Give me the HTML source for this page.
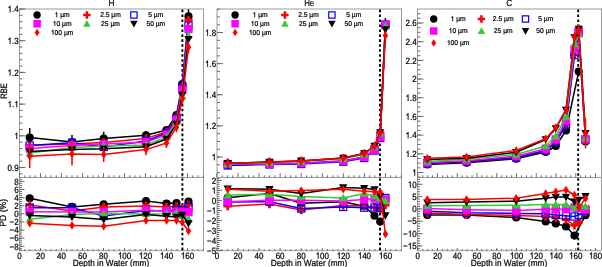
<!DOCTYPE html>
<html><head><meta charset="utf-8"><style>
html,body{margin:0;padding:0;background:#fff;width:602px;height:267px;overflow:hidden}
svg{display:block;will-change:transform} text{text-rendering:geometricPrecision;stroke:#000;stroke-width:0.22px;font-kerning:none}
</style></head><body>
<svg width="602" height="267" viewBox="0 0 602 267" font-family="Liberation Sans, sans-serif">
<rect width="602" height="267" fill="#fff"/>
<line x1="19.50" y1="9.00" x2="203.50" y2="9.00" stroke="#9a9a9a" stroke-width="1.0"/>
<line x1="19.50" y1="8.50" x2="19.50" y2="251.00" stroke="#9a9a9a" stroke-width="1.0"/>
<line x1="203.50" y1="8.50" x2="203.50" y2="251.00" stroke="#9a9a9a" stroke-width="1.0"/>
<line x1="19.00" y1="250.50" x2="204.00" y2="250.50" stroke="#b4b4b4" stroke-width="1.5"/>
<line x1="19.50" y1="177.50" x2="203.50" y2="177.50" stroke="#9a9a9a" stroke-width="1.0"/>
<line x1="19.50" y1="167.50" x2="25.50" y2="167.50" stroke="#6a6a6a" stroke-width="1.0"/>
<text transform="translate(18.60 170.70) scale(0.89 1)" font-size="9.0" text-anchor="end" >0.9</text>
<line x1="19.50" y1="135.80" x2="25.50" y2="135.80" stroke="#6a6a6a" stroke-width="1.0"/>
<g transform="translate(18.60 139.00) scale(0.89 1)"><text x="0" y="0" font-size="9.0" text-anchor="end" > </text><path transform="translate(-5.005 0) scale(9.0)" d="M0.372 -0.703L0.372 0L0.284 0L0.284 -0.492L0.110 -0.492L0.110 -0.558C0.227 -0.572 0.264 -0.593 0.292 -0.703Z" fill="#000" stroke="#000" stroke-width="0.0244"/></g>
<line x1="19.50" y1="104.10" x2="25.50" y2="104.10" stroke="#6a6a6a" stroke-width="1.0"/>
<g transform="translate(18.60 107.30) scale(0.89 1)"><text x="0" y="0" font-size="9.0" text-anchor="end" > . </text><path transform="translate(-12.511 0) scale(9.0)" d="M0.372 -0.703L0.372 0L0.284 0L0.284 -0.492L0.110 -0.492L0.110 -0.558C0.227 -0.572 0.264 -0.593 0.292 -0.703Z" fill="#000" stroke="#000" stroke-width="0.0244"/><path transform="translate(-5.005 0) scale(9.0)" d="M0.372 -0.703L0.372 0L0.284 0L0.284 -0.492L0.110 -0.492L0.110 -0.558C0.227 -0.572 0.264 -0.593 0.292 -0.703Z" fill="#000" stroke="#000" stroke-width="0.0244"/></g>
<line x1="19.50" y1="72.40" x2="25.50" y2="72.40" stroke="#6a6a6a" stroke-width="1.0"/>
<g transform="translate(18.60 75.60) scale(0.89 1)"><text x="0" y="0" font-size="9.0" text-anchor="end" > .2</text><path transform="translate(-12.511 0) scale(9.0)" d="M0.372 -0.703L0.372 0L0.284 0L0.284 -0.492L0.110 -0.492L0.110 -0.558C0.227 -0.572 0.264 -0.593 0.292 -0.703Z" fill="#000" stroke="#000" stroke-width="0.0244"/></g>
<line x1="19.50" y1="40.70" x2="25.50" y2="40.70" stroke="#6a6a6a" stroke-width="1.0"/>
<g transform="translate(18.60 43.90) scale(0.89 1)"><text x="0" y="0" font-size="9.0" text-anchor="end" > .3</text><path transform="translate(-12.511 0) scale(9.0)" d="M0.372 -0.703L0.372 0L0.284 0L0.284 -0.492L0.110 -0.492L0.110 -0.558C0.227 -0.572 0.264 -0.593 0.292 -0.703Z" fill="#000" stroke="#000" stroke-width="0.0244"/></g>
<line x1="19.50" y1="9.00" x2="25.50" y2="9.00" stroke="#6a6a6a" stroke-width="1.0"/>
<g transform="translate(18.60 12.20) scale(0.89 1)"><text x="0" y="0" font-size="9.0" text-anchor="end" > .4</text><path transform="translate(-12.511 0) scale(9.0)" d="M0.372 -0.703L0.372 0L0.284 0L0.284 -0.492L0.110 -0.492L0.110 -0.558C0.227 -0.572 0.264 -0.593 0.292 -0.703Z" fill="#000" stroke="#000" stroke-width="0.0244"/></g>
<line x1="19.50" y1="173.84" x2="22.50" y2="173.84" stroke="#6a6a6a" stroke-width="1.0"/>
<line x1="19.50" y1="167.50" x2="22.50" y2="167.50" stroke="#6a6a6a" stroke-width="1.0"/>
<line x1="19.50" y1="161.16" x2="22.50" y2="161.16" stroke="#6a6a6a" stroke-width="1.0"/>
<line x1="19.50" y1="154.82" x2="22.50" y2="154.82" stroke="#6a6a6a" stroke-width="1.0"/>
<line x1="19.50" y1="148.48" x2="22.50" y2="148.48" stroke="#6a6a6a" stroke-width="1.0"/>
<line x1="19.50" y1="142.14" x2="22.50" y2="142.14" stroke="#6a6a6a" stroke-width="1.0"/>
<line x1="19.50" y1="135.80" x2="22.50" y2="135.80" stroke="#6a6a6a" stroke-width="1.0"/>
<line x1="19.50" y1="129.46" x2="22.50" y2="129.46" stroke="#6a6a6a" stroke-width="1.0"/>
<line x1="19.50" y1="123.12" x2="22.50" y2="123.12" stroke="#6a6a6a" stroke-width="1.0"/>
<line x1="19.50" y1="116.78" x2="22.50" y2="116.78" stroke="#6a6a6a" stroke-width="1.0"/>
<line x1="19.50" y1="110.44" x2="22.50" y2="110.44" stroke="#6a6a6a" stroke-width="1.0"/>
<line x1="19.50" y1="104.10" x2="22.50" y2="104.10" stroke="#6a6a6a" stroke-width="1.0"/>
<line x1="19.50" y1="97.76" x2="22.50" y2="97.76" stroke="#6a6a6a" stroke-width="1.0"/>
<line x1="19.50" y1="91.42" x2="22.50" y2="91.42" stroke="#6a6a6a" stroke-width="1.0"/>
<line x1="19.50" y1="85.08" x2="22.50" y2="85.08" stroke="#6a6a6a" stroke-width="1.0"/>
<line x1="19.50" y1="78.74" x2="22.50" y2="78.74" stroke="#6a6a6a" stroke-width="1.0"/>
<line x1="19.50" y1="72.40" x2="22.50" y2="72.40" stroke="#6a6a6a" stroke-width="1.0"/>
<line x1="19.50" y1="66.06" x2="22.50" y2="66.06" stroke="#6a6a6a" stroke-width="1.0"/>
<line x1="19.50" y1="59.72" x2="22.50" y2="59.72" stroke="#6a6a6a" stroke-width="1.0"/>
<line x1="19.50" y1="53.38" x2="22.50" y2="53.38" stroke="#6a6a6a" stroke-width="1.0"/>
<line x1="19.50" y1="47.04" x2="22.50" y2="47.04" stroke="#6a6a6a" stroke-width="1.0"/>
<line x1="19.50" y1="40.70" x2="22.50" y2="40.70" stroke="#6a6a6a" stroke-width="1.0"/>
<line x1="19.50" y1="34.36" x2="22.50" y2="34.36" stroke="#6a6a6a" stroke-width="1.0"/>
<line x1="19.50" y1="28.02" x2="22.50" y2="28.02" stroke="#6a6a6a" stroke-width="1.0"/>
<line x1="19.50" y1="21.68" x2="22.50" y2="21.68" stroke="#6a6a6a" stroke-width="1.0"/>
<line x1="19.50" y1="15.34" x2="22.50" y2="15.34" stroke="#6a6a6a" stroke-width="1.0"/>
<line x1="19.50" y1="9.00" x2="22.50" y2="9.00" stroke="#6a6a6a" stroke-width="1.0"/>
<line x1="19.50" y1="246.30" x2="24.50" y2="246.30" stroke="#6a6a6a" stroke-width="1.0"/>
<text transform="translate(18.60 249.50) scale(0.89 1)" font-size="9.0" text-anchor="end" >−8</text>
<line x1="19.50" y1="238.19" x2="24.50" y2="238.19" stroke="#6a6a6a" stroke-width="1.0"/>
<text transform="translate(18.60 241.39) scale(0.89 1)" font-size="9.0" text-anchor="end" >−6</text>
<line x1="19.50" y1="230.07" x2="24.50" y2="230.07" stroke="#6a6a6a" stroke-width="1.0"/>
<text transform="translate(18.60 233.27) scale(0.89 1)" font-size="9.0" text-anchor="end" >−4</text>
<line x1="19.50" y1="221.96" x2="24.50" y2="221.96" stroke="#6a6a6a" stroke-width="1.0"/>
<text transform="translate(18.60 225.16) scale(0.89 1)" font-size="9.0" text-anchor="end" >−2</text>
<line x1="19.50" y1="213.85" x2="24.50" y2="213.85" stroke="#6a6a6a" stroke-width="1.0"/>
<text transform="translate(18.60 217.05) scale(0.89 1)" font-size="9.0" text-anchor="end" >0</text>
<line x1="19.50" y1="205.74" x2="24.50" y2="205.74" stroke="#6a6a6a" stroke-width="1.0"/>
<text transform="translate(18.60 208.94) scale(0.89 1)" font-size="9.0" text-anchor="end" >2</text>
<line x1="19.50" y1="197.63" x2="24.50" y2="197.63" stroke="#6a6a6a" stroke-width="1.0"/>
<text transform="translate(18.60 200.83) scale(0.89 1)" font-size="9.0" text-anchor="end" >4</text>
<line x1="19.50" y1="189.51" x2="24.50" y2="189.51" stroke="#6a6a6a" stroke-width="1.0"/>
<text transform="translate(18.60 192.71) scale(0.89 1)" font-size="9.0" text-anchor="end" >6</text>
<line x1="19.50" y1="181.40" x2="24.50" y2="181.40" stroke="#6a6a6a" stroke-width="1.0"/>
<text transform="translate(18.60 184.60) scale(0.89 1)" font-size="9.0" text-anchor="end" >8</text>
<line x1="19.50" y1="250.35" x2="22.00" y2="250.35" stroke="#6a6a6a" stroke-width="1.0"/>
<line x1="19.50" y1="248.33" x2="22.00" y2="248.33" stroke="#6a6a6a" stroke-width="1.0"/>
<line x1="19.50" y1="246.30" x2="22.00" y2="246.30" stroke="#6a6a6a" stroke-width="1.0"/>
<line x1="19.50" y1="244.27" x2="22.00" y2="244.27" stroke="#6a6a6a" stroke-width="1.0"/>
<line x1="19.50" y1="242.24" x2="22.00" y2="242.24" stroke="#6a6a6a" stroke-width="1.0"/>
<line x1="19.50" y1="240.21" x2="22.00" y2="240.21" stroke="#6a6a6a" stroke-width="1.0"/>
<line x1="19.50" y1="238.19" x2="22.00" y2="238.19" stroke="#6a6a6a" stroke-width="1.0"/>
<line x1="19.50" y1="236.16" x2="22.00" y2="236.16" stroke="#6a6a6a" stroke-width="1.0"/>
<line x1="19.50" y1="234.13" x2="22.00" y2="234.13" stroke="#6a6a6a" stroke-width="1.0"/>
<line x1="19.50" y1="232.10" x2="22.00" y2="232.10" stroke="#6a6a6a" stroke-width="1.0"/>
<line x1="19.50" y1="230.07" x2="22.00" y2="230.07" stroke="#6a6a6a" stroke-width="1.0"/>
<line x1="19.50" y1="228.05" x2="22.00" y2="228.05" stroke="#6a6a6a" stroke-width="1.0"/>
<line x1="19.50" y1="226.02" x2="22.00" y2="226.02" stroke="#6a6a6a" stroke-width="1.0"/>
<line x1="19.50" y1="223.99" x2="22.00" y2="223.99" stroke="#6a6a6a" stroke-width="1.0"/>
<line x1="19.50" y1="221.96" x2="22.00" y2="221.96" stroke="#6a6a6a" stroke-width="1.0"/>
<line x1="19.50" y1="219.93" x2="22.00" y2="219.93" stroke="#6a6a6a" stroke-width="1.0"/>
<line x1="19.50" y1="217.91" x2="22.00" y2="217.91" stroke="#6a6a6a" stroke-width="1.0"/>
<line x1="19.50" y1="215.88" x2="22.00" y2="215.88" stroke="#6a6a6a" stroke-width="1.0"/>
<line x1="19.50" y1="213.85" x2="22.00" y2="213.85" stroke="#6a6a6a" stroke-width="1.0"/>
<line x1="19.50" y1="211.82" x2="22.00" y2="211.82" stroke="#6a6a6a" stroke-width="1.0"/>
<line x1="19.50" y1="209.79" x2="22.00" y2="209.79" stroke="#6a6a6a" stroke-width="1.0"/>
<line x1="19.50" y1="207.77" x2="22.00" y2="207.77" stroke="#6a6a6a" stroke-width="1.0"/>
<line x1="19.50" y1="205.74" x2="22.00" y2="205.74" stroke="#6a6a6a" stroke-width="1.0"/>
<line x1="19.50" y1="203.71" x2="22.00" y2="203.71" stroke="#6a6a6a" stroke-width="1.0"/>
<line x1="19.50" y1="201.68" x2="22.00" y2="201.68" stroke="#6a6a6a" stroke-width="1.0"/>
<line x1="19.50" y1="199.65" x2="22.00" y2="199.65" stroke="#6a6a6a" stroke-width="1.0"/>
<line x1="19.50" y1="197.63" x2="22.00" y2="197.63" stroke="#6a6a6a" stroke-width="1.0"/>
<line x1="19.50" y1="195.60" x2="22.00" y2="195.60" stroke="#6a6a6a" stroke-width="1.0"/>
<line x1="19.50" y1="193.57" x2="22.00" y2="193.57" stroke="#6a6a6a" stroke-width="1.0"/>
<line x1="19.50" y1="191.54" x2="22.00" y2="191.54" stroke="#6a6a6a" stroke-width="1.0"/>
<line x1="19.50" y1="189.51" x2="22.00" y2="189.51" stroke="#6a6a6a" stroke-width="1.0"/>
<line x1="19.50" y1="187.49" x2="22.00" y2="187.49" stroke="#6a6a6a" stroke-width="1.0"/>
<line x1="19.50" y1="185.46" x2="22.00" y2="185.46" stroke="#6a6a6a" stroke-width="1.0"/>
<line x1="19.50" y1="183.43" x2="22.00" y2="183.43" stroke="#6a6a6a" stroke-width="1.0"/>
<line x1="19.50" y1="181.40" x2="22.00" y2="181.40" stroke="#6a6a6a" stroke-width="1.0"/>
<line x1="19.50" y1="179.37" x2="22.00" y2="179.37" stroke="#6a6a6a" stroke-width="1.0"/>
<line x1="19.50" y1="177.50" x2="19.50" y2="173.20" stroke="#6a6a6a" stroke-width="1.0"/>
<line x1="19.50" y1="250.70" x2="19.50" y2="248.20" stroke="#555" stroke-width="1.0"/>
<text transform="translate(19.50 258.70) scale(0.89 1)" font-size="9.0" text-anchor="middle" >0</text>
<line x1="24.75" y1="177.50" x2="24.75" y2="175.30" stroke="#6a6a6a" stroke-width="1.0"/>
<line x1="24.75" y1="250.70" x2="24.75" y2="249.30" stroke="#555" stroke-width="1.0"/>
<line x1="30.00" y1="177.50" x2="30.00" y2="175.30" stroke="#6a6a6a" stroke-width="1.0"/>
<line x1="30.00" y1="250.70" x2="30.00" y2="249.30" stroke="#555" stroke-width="1.0"/>
<line x1="35.25" y1="177.50" x2="35.25" y2="175.30" stroke="#6a6a6a" stroke-width="1.0"/>
<line x1="35.25" y1="250.70" x2="35.25" y2="249.30" stroke="#555" stroke-width="1.0"/>
<line x1="40.50" y1="177.50" x2="40.50" y2="173.20" stroke="#6a6a6a" stroke-width="1.0"/>
<line x1="40.50" y1="250.70" x2="40.50" y2="248.20" stroke="#555" stroke-width="1.0"/>
<text transform="translate(40.50 258.70) scale(0.89 1)" font-size="9.0" text-anchor="middle" >20</text>
<line x1="45.75" y1="177.50" x2="45.75" y2="175.30" stroke="#6a6a6a" stroke-width="1.0"/>
<line x1="45.75" y1="250.70" x2="45.75" y2="249.30" stroke="#555" stroke-width="1.0"/>
<line x1="51.00" y1="177.50" x2="51.00" y2="175.30" stroke="#6a6a6a" stroke-width="1.0"/>
<line x1="51.00" y1="250.70" x2="51.00" y2="249.30" stroke="#555" stroke-width="1.0"/>
<line x1="56.25" y1="177.50" x2="56.25" y2="175.30" stroke="#6a6a6a" stroke-width="1.0"/>
<line x1="56.25" y1="250.70" x2="56.25" y2="249.30" stroke="#555" stroke-width="1.0"/>
<line x1="61.50" y1="177.50" x2="61.50" y2="173.20" stroke="#6a6a6a" stroke-width="1.0"/>
<line x1="61.50" y1="250.70" x2="61.50" y2="248.20" stroke="#555" stroke-width="1.0"/>
<text transform="translate(61.50 258.70) scale(0.89 1)" font-size="9.0" text-anchor="middle" >40</text>
<line x1="66.75" y1="177.50" x2="66.75" y2="175.30" stroke="#6a6a6a" stroke-width="1.0"/>
<line x1="66.75" y1="250.70" x2="66.75" y2="249.30" stroke="#555" stroke-width="1.0"/>
<line x1="72.00" y1="177.50" x2="72.00" y2="175.30" stroke="#6a6a6a" stroke-width="1.0"/>
<line x1="72.00" y1="250.70" x2="72.00" y2="249.30" stroke="#555" stroke-width="1.0"/>
<line x1="77.25" y1="177.50" x2="77.25" y2="175.30" stroke="#6a6a6a" stroke-width="1.0"/>
<line x1="77.25" y1="250.70" x2="77.25" y2="249.30" stroke="#555" stroke-width="1.0"/>
<line x1="82.50" y1="177.50" x2="82.50" y2="173.20" stroke="#6a6a6a" stroke-width="1.0"/>
<line x1="82.50" y1="250.70" x2="82.50" y2="248.20" stroke="#555" stroke-width="1.0"/>
<text transform="translate(82.50 258.70) scale(0.89 1)" font-size="9.0" text-anchor="middle" >60</text>
<line x1="87.75" y1="177.50" x2="87.75" y2="175.30" stroke="#6a6a6a" stroke-width="1.0"/>
<line x1="87.75" y1="250.70" x2="87.75" y2="249.30" stroke="#555" stroke-width="1.0"/>
<line x1="93.00" y1="177.50" x2="93.00" y2="175.30" stroke="#6a6a6a" stroke-width="1.0"/>
<line x1="93.00" y1="250.70" x2="93.00" y2="249.30" stroke="#555" stroke-width="1.0"/>
<line x1="98.25" y1="177.50" x2="98.25" y2="175.30" stroke="#6a6a6a" stroke-width="1.0"/>
<line x1="98.25" y1="250.70" x2="98.25" y2="249.30" stroke="#555" stroke-width="1.0"/>
<line x1="103.50" y1="177.50" x2="103.50" y2="173.20" stroke="#6a6a6a" stroke-width="1.0"/>
<line x1="103.50" y1="250.70" x2="103.50" y2="248.20" stroke="#555" stroke-width="1.0"/>
<text transform="translate(103.50 258.70) scale(0.89 1)" font-size="9.0" text-anchor="middle" >80</text>
<line x1="108.75" y1="177.50" x2="108.75" y2="175.30" stroke="#6a6a6a" stroke-width="1.0"/>
<line x1="108.75" y1="250.70" x2="108.75" y2="249.30" stroke="#555" stroke-width="1.0"/>
<line x1="114.00" y1="177.50" x2="114.00" y2="175.30" stroke="#6a6a6a" stroke-width="1.0"/>
<line x1="114.00" y1="250.70" x2="114.00" y2="249.30" stroke="#555" stroke-width="1.0"/>
<line x1="119.25" y1="177.50" x2="119.25" y2="175.30" stroke="#6a6a6a" stroke-width="1.0"/>
<line x1="119.25" y1="250.70" x2="119.25" y2="249.30" stroke="#555" stroke-width="1.0"/>
<line x1="124.50" y1="177.50" x2="124.50" y2="173.20" stroke="#6a6a6a" stroke-width="1.0"/>
<line x1="124.50" y1="250.70" x2="124.50" y2="248.20" stroke="#555" stroke-width="1.0"/>
<g transform="translate(124.50 258.70) scale(0.89 1)"><text x="0" y="0" font-size="9.0" text-anchor="middle" > 00</text><path transform="translate(-7.508 0) scale(9.0)" d="M0.372 -0.703L0.372 0L0.284 0L0.284 -0.492L0.110 -0.492L0.110 -0.558C0.227 -0.572 0.264 -0.593 0.292 -0.703Z" fill="#000" stroke="#000" stroke-width="0.0244"/></g>
<line x1="129.75" y1="177.50" x2="129.75" y2="175.30" stroke="#6a6a6a" stroke-width="1.0"/>
<line x1="129.75" y1="250.70" x2="129.75" y2="249.30" stroke="#555" stroke-width="1.0"/>
<line x1="135.00" y1="177.50" x2="135.00" y2="175.30" stroke="#6a6a6a" stroke-width="1.0"/>
<line x1="135.00" y1="250.70" x2="135.00" y2="249.30" stroke="#555" stroke-width="1.0"/>
<line x1="140.25" y1="177.50" x2="140.25" y2="175.30" stroke="#6a6a6a" stroke-width="1.0"/>
<line x1="140.25" y1="250.70" x2="140.25" y2="249.30" stroke="#555" stroke-width="1.0"/>
<line x1="145.50" y1="177.50" x2="145.50" y2="173.20" stroke="#6a6a6a" stroke-width="1.0"/>
<line x1="145.50" y1="250.70" x2="145.50" y2="248.20" stroke="#555" stroke-width="1.0"/>
<g transform="translate(145.50 258.70) scale(0.89 1)"><text x="0" y="0" font-size="9.0" text-anchor="middle" > 20</text><path transform="translate(-7.508 0) scale(9.0)" d="M0.372 -0.703L0.372 0L0.284 0L0.284 -0.492L0.110 -0.492L0.110 -0.558C0.227 -0.572 0.264 -0.593 0.292 -0.703Z" fill="#000" stroke="#000" stroke-width="0.0244"/></g>
<line x1="150.75" y1="177.50" x2="150.75" y2="175.30" stroke="#6a6a6a" stroke-width="1.0"/>
<line x1="150.75" y1="250.70" x2="150.75" y2="249.30" stroke="#555" stroke-width="1.0"/>
<line x1="156.00" y1="177.50" x2="156.00" y2="175.30" stroke="#6a6a6a" stroke-width="1.0"/>
<line x1="156.00" y1="250.70" x2="156.00" y2="249.30" stroke="#555" stroke-width="1.0"/>
<line x1="161.25" y1="177.50" x2="161.25" y2="175.30" stroke="#6a6a6a" stroke-width="1.0"/>
<line x1="161.25" y1="250.70" x2="161.25" y2="249.30" stroke="#555" stroke-width="1.0"/>
<line x1="166.50" y1="177.50" x2="166.50" y2="173.20" stroke="#6a6a6a" stroke-width="1.0"/>
<line x1="166.50" y1="250.70" x2="166.50" y2="248.20" stroke="#555" stroke-width="1.0"/>
<g transform="translate(166.50 258.70) scale(0.89 1)"><text x="0" y="0" font-size="9.0" text-anchor="middle" > 40</text><path transform="translate(-7.508 0) scale(9.0)" d="M0.372 -0.703L0.372 0L0.284 0L0.284 -0.492L0.110 -0.492L0.110 -0.558C0.227 -0.572 0.264 -0.593 0.292 -0.703Z" fill="#000" stroke="#000" stroke-width="0.0244"/></g>
<line x1="171.75" y1="177.50" x2="171.75" y2="175.30" stroke="#6a6a6a" stroke-width="1.0"/>
<line x1="171.75" y1="250.70" x2="171.75" y2="249.30" stroke="#555" stroke-width="1.0"/>
<line x1="177.00" y1="177.50" x2="177.00" y2="175.30" stroke="#6a6a6a" stroke-width="1.0"/>
<line x1="177.00" y1="250.70" x2="177.00" y2="249.30" stroke="#555" stroke-width="1.0"/>
<line x1="182.25" y1="177.50" x2="182.25" y2="175.30" stroke="#6a6a6a" stroke-width="1.0"/>
<line x1="182.25" y1="250.70" x2="182.25" y2="249.30" stroke="#555" stroke-width="1.0"/>
<line x1="187.50" y1="177.50" x2="187.50" y2="173.20" stroke="#6a6a6a" stroke-width="1.0"/>
<line x1="187.50" y1="250.70" x2="187.50" y2="248.20" stroke="#555" stroke-width="1.0"/>
<g transform="translate(187.50 258.70) scale(0.89 1)"><text x="0" y="0" font-size="9.0" text-anchor="middle" > 60</text><path transform="translate(-7.508 0) scale(9.0)" d="M0.372 -0.703L0.372 0L0.284 0L0.284 -0.492L0.110 -0.492L0.110 -0.558C0.227 -0.572 0.264 -0.593 0.292 -0.703Z" fill="#000" stroke="#000" stroke-width="0.0244"/></g>
<line x1="192.75" y1="177.50" x2="192.75" y2="175.30" stroke="#6a6a6a" stroke-width="1.0"/>
<line x1="192.75" y1="250.70" x2="192.75" y2="249.30" stroke="#555" stroke-width="1.0"/>
<line x1="198.00" y1="177.50" x2="198.00" y2="175.30" stroke="#6a6a6a" stroke-width="1.0"/>
<line x1="198.00" y1="250.70" x2="198.00" y2="249.30" stroke="#555" stroke-width="1.0"/>
<line x1="203.25" y1="177.50" x2="203.25" y2="175.30" stroke="#6a6a6a" stroke-width="1.0"/>
<line x1="203.25" y1="250.70" x2="203.25" y2="249.30" stroke="#555" stroke-width="1.0"/>
<line x1="217.00" y1="9.00" x2="401.50" y2="9.00" stroke="#9a9a9a" stroke-width="1.0"/>
<line x1="217.00" y1="8.50" x2="217.00" y2="251.00" stroke="#9a9a9a" stroke-width="1.0"/>
<line x1="401.50" y1="8.50" x2="401.50" y2="251.00" stroke="#9a9a9a" stroke-width="1.0"/>
<line x1="216.50" y1="250.50" x2="402.00" y2="250.50" stroke="#b4b4b4" stroke-width="1.5"/>
<line x1="217.00" y1="177.50" x2="401.50" y2="177.50" stroke="#9a9a9a" stroke-width="1.0"/>
<line x1="217.00" y1="157.00" x2="223.00" y2="157.00" stroke="#6a6a6a" stroke-width="1.0"/>
<g transform="translate(216.10 160.20) scale(0.89 1)"><text x="0" y="0" font-size="9.0" text-anchor="end" > </text><path transform="translate(-5.005 0) scale(9.0)" d="M0.372 -0.703L0.372 0L0.284 0L0.284 -0.492L0.110 -0.492L0.110 -0.558C0.227 -0.572 0.264 -0.593 0.292 -0.703Z" fill="#000" stroke="#000" stroke-width="0.0244"/></g>
<line x1="217.00" y1="125.88" x2="223.00" y2="125.88" stroke="#6a6a6a" stroke-width="1.0"/>
<g transform="translate(216.10 129.08) scale(0.89 1)"><text x="0" y="0" font-size="9.0" text-anchor="end" > .2</text><path transform="translate(-12.511 0) scale(9.0)" d="M0.372 -0.703L0.372 0L0.284 0L0.284 -0.492L0.110 -0.492L0.110 -0.558C0.227 -0.572 0.264 -0.593 0.292 -0.703Z" fill="#000" stroke="#000" stroke-width="0.0244"/></g>
<line x1="217.00" y1="94.76" x2="223.00" y2="94.76" stroke="#6a6a6a" stroke-width="1.0"/>
<g transform="translate(216.10 97.96) scale(0.89 1)"><text x="0" y="0" font-size="9.0" text-anchor="end" > .4</text><path transform="translate(-12.511 0) scale(9.0)" d="M0.372 -0.703L0.372 0L0.284 0L0.284 -0.492L0.110 -0.492L0.110 -0.558C0.227 -0.572 0.264 -0.593 0.292 -0.703Z" fill="#000" stroke="#000" stroke-width="0.0244"/></g>
<line x1="217.00" y1="63.64" x2="223.00" y2="63.64" stroke="#6a6a6a" stroke-width="1.0"/>
<g transform="translate(216.10 66.84) scale(0.89 1)"><text x="0" y="0" font-size="9.0" text-anchor="end" > .6</text><path transform="translate(-12.511 0) scale(9.0)" d="M0.372 -0.703L0.372 0L0.284 0L0.284 -0.492L0.110 -0.492L0.110 -0.558C0.227 -0.572 0.264 -0.593 0.292 -0.703Z" fill="#000" stroke="#000" stroke-width="0.0244"/></g>
<line x1="217.00" y1="32.52" x2="223.00" y2="32.52" stroke="#6a6a6a" stroke-width="1.0"/>
<g transform="translate(216.10 35.72) scale(0.89 1)"><text x="0" y="0" font-size="9.0" text-anchor="end" > .8</text><path transform="translate(-12.511 0) scale(9.0)" d="M0.372 -0.703L0.372 0L0.284 0L0.284 -0.492L0.110 -0.492L0.110 -0.558C0.227 -0.572 0.264 -0.593 0.292 -0.703Z" fill="#000" stroke="#000" stroke-width="0.0244"/></g>
<line x1="217.00" y1="172.56" x2="220.00" y2="172.56" stroke="#6a6a6a" stroke-width="1.0"/>
<line x1="217.00" y1="164.78" x2="220.00" y2="164.78" stroke="#6a6a6a" stroke-width="1.0"/>
<line x1="217.00" y1="157.00" x2="220.00" y2="157.00" stroke="#6a6a6a" stroke-width="1.0"/>
<line x1="217.00" y1="149.22" x2="220.00" y2="149.22" stroke="#6a6a6a" stroke-width="1.0"/>
<line x1="217.00" y1="141.44" x2="220.00" y2="141.44" stroke="#6a6a6a" stroke-width="1.0"/>
<line x1="217.00" y1="133.66" x2="220.00" y2="133.66" stroke="#6a6a6a" stroke-width="1.0"/>
<line x1="217.00" y1="125.88" x2="220.00" y2="125.88" stroke="#6a6a6a" stroke-width="1.0"/>
<line x1="217.00" y1="118.10" x2="220.00" y2="118.10" stroke="#6a6a6a" stroke-width="1.0"/>
<line x1="217.00" y1="110.32" x2="220.00" y2="110.32" stroke="#6a6a6a" stroke-width="1.0"/>
<line x1="217.00" y1="102.54" x2="220.00" y2="102.54" stroke="#6a6a6a" stroke-width="1.0"/>
<line x1="217.00" y1="94.76" x2="220.00" y2="94.76" stroke="#6a6a6a" stroke-width="1.0"/>
<line x1="217.00" y1="86.98" x2="220.00" y2="86.98" stroke="#6a6a6a" stroke-width="1.0"/>
<line x1="217.00" y1="79.20" x2="220.00" y2="79.20" stroke="#6a6a6a" stroke-width="1.0"/>
<line x1="217.00" y1="71.42" x2="220.00" y2="71.42" stroke="#6a6a6a" stroke-width="1.0"/>
<line x1="217.00" y1="63.64" x2="220.00" y2="63.64" stroke="#6a6a6a" stroke-width="1.0"/>
<line x1="217.00" y1="55.86" x2="220.00" y2="55.86" stroke="#6a6a6a" stroke-width="1.0"/>
<line x1="217.00" y1="48.08" x2="220.00" y2="48.08" stroke="#6a6a6a" stroke-width="1.0"/>
<line x1="217.00" y1="40.30" x2="220.00" y2="40.30" stroke="#6a6a6a" stroke-width="1.0"/>
<line x1="217.00" y1="32.52" x2="220.00" y2="32.52" stroke="#6a6a6a" stroke-width="1.0"/>
<line x1="217.00" y1="24.74" x2="220.00" y2="24.74" stroke="#6a6a6a" stroke-width="1.0"/>
<line x1="217.00" y1="16.96" x2="220.00" y2="16.96" stroke="#6a6a6a" stroke-width="1.0"/>
<line x1="217.00" y1="9.18" x2="220.00" y2="9.18" stroke="#6a6a6a" stroke-width="1.0"/>
<line x1="217.00" y1="250.55" x2="222.00" y2="250.55" stroke="#6a6a6a" stroke-width="1.0"/>
<text transform="translate(216.10 253.75) scale(0.89 1)" font-size="9.0" text-anchor="end" >−5</text>
<line x1="217.00" y1="240.52" x2="222.00" y2="240.52" stroke="#6a6a6a" stroke-width="1.0"/>
<text transform="translate(216.10 243.72) scale(0.89 1)" font-size="9.0" text-anchor="end" >−4</text>
<line x1="217.00" y1="230.49" x2="222.00" y2="230.49" stroke="#6a6a6a" stroke-width="1.0"/>
<text transform="translate(216.10 233.69) scale(0.89 1)" font-size="9.0" text-anchor="end" >−3</text>
<line x1="217.00" y1="220.46" x2="222.00" y2="220.46" stroke="#6a6a6a" stroke-width="1.0"/>
<text transform="translate(216.10 223.66) scale(0.89 1)" font-size="9.0" text-anchor="end" >−2</text>
<line x1="217.00" y1="210.43" x2="222.00" y2="210.43" stroke="#6a6a6a" stroke-width="1.0"/>
<g transform="translate(216.10 213.63) scale(0.89 1)"><text x="0" y="0" font-size="9.0" text-anchor="end" >− </text><path transform="translate(-5.005 0) scale(9.0)" d="M0.372 -0.703L0.372 0L0.284 0L0.284 -0.492L0.110 -0.492L0.110 -0.558C0.227 -0.572 0.264 -0.593 0.292 -0.703Z" fill="#000" stroke="#000" stroke-width="0.0244"/></g>
<line x1="217.00" y1="200.40" x2="222.00" y2="200.40" stroke="#6a6a6a" stroke-width="1.0"/>
<text transform="translate(216.10 203.60) scale(0.89 1)" font-size="9.0" text-anchor="end" >0</text>
<line x1="217.00" y1="190.37" x2="222.00" y2="190.37" stroke="#6a6a6a" stroke-width="1.0"/>
<g transform="translate(216.10 193.57) scale(0.89 1)"><text x="0" y="0" font-size="9.0" text-anchor="end" > </text><path transform="translate(-5.005 0) scale(9.0)" d="M0.372 -0.703L0.372 0L0.284 0L0.284 -0.492L0.110 -0.492L0.110 -0.558C0.227 -0.572 0.264 -0.593 0.292 -0.703Z" fill="#000" stroke="#000" stroke-width="0.0244"/></g>
<line x1="217.00" y1="180.34" x2="222.00" y2="180.34" stroke="#6a6a6a" stroke-width="1.0"/>
<text transform="translate(216.10 183.54) scale(0.89 1)" font-size="9.0" text-anchor="end" >2</text>
<line x1="217.00" y1="248.54" x2="219.50" y2="248.54" stroke="#6a6a6a" stroke-width="1.0"/>
<line x1="217.00" y1="246.54" x2="219.50" y2="246.54" stroke="#6a6a6a" stroke-width="1.0"/>
<line x1="217.00" y1="244.53" x2="219.50" y2="244.53" stroke="#6a6a6a" stroke-width="1.0"/>
<line x1="217.00" y1="242.53" x2="219.50" y2="242.53" stroke="#6a6a6a" stroke-width="1.0"/>
<line x1="217.00" y1="240.52" x2="219.50" y2="240.52" stroke="#6a6a6a" stroke-width="1.0"/>
<line x1="217.00" y1="238.51" x2="219.50" y2="238.51" stroke="#6a6a6a" stroke-width="1.0"/>
<line x1="217.00" y1="236.51" x2="219.50" y2="236.51" stroke="#6a6a6a" stroke-width="1.0"/>
<line x1="217.00" y1="234.50" x2="219.50" y2="234.50" stroke="#6a6a6a" stroke-width="1.0"/>
<line x1="217.00" y1="232.50" x2="219.50" y2="232.50" stroke="#6a6a6a" stroke-width="1.0"/>
<line x1="217.00" y1="230.49" x2="219.50" y2="230.49" stroke="#6a6a6a" stroke-width="1.0"/>
<line x1="217.00" y1="228.48" x2="219.50" y2="228.48" stroke="#6a6a6a" stroke-width="1.0"/>
<line x1="217.00" y1="226.48" x2="219.50" y2="226.48" stroke="#6a6a6a" stroke-width="1.0"/>
<line x1="217.00" y1="224.47" x2="219.50" y2="224.47" stroke="#6a6a6a" stroke-width="1.0"/>
<line x1="217.00" y1="222.47" x2="219.50" y2="222.47" stroke="#6a6a6a" stroke-width="1.0"/>
<line x1="217.00" y1="220.46" x2="219.50" y2="220.46" stroke="#6a6a6a" stroke-width="1.0"/>
<line x1="217.00" y1="218.45" x2="219.50" y2="218.45" stroke="#6a6a6a" stroke-width="1.0"/>
<line x1="217.00" y1="216.45" x2="219.50" y2="216.45" stroke="#6a6a6a" stroke-width="1.0"/>
<line x1="217.00" y1="214.44" x2="219.50" y2="214.44" stroke="#6a6a6a" stroke-width="1.0"/>
<line x1="217.00" y1="212.44" x2="219.50" y2="212.44" stroke="#6a6a6a" stroke-width="1.0"/>
<line x1="217.00" y1="210.43" x2="219.50" y2="210.43" stroke="#6a6a6a" stroke-width="1.0"/>
<line x1="217.00" y1="208.42" x2="219.50" y2="208.42" stroke="#6a6a6a" stroke-width="1.0"/>
<line x1="217.00" y1="206.42" x2="219.50" y2="206.42" stroke="#6a6a6a" stroke-width="1.0"/>
<line x1="217.00" y1="204.41" x2="219.50" y2="204.41" stroke="#6a6a6a" stroke-width="1.0"/>
<line x1="217.00" y1="202.41" x2="219.50" y2="202.41" stroke="#6a6a6a" stroke-width="1.0"/>
<line x1="217.00" y1="200.40" x2="219.50" y2="200.40" stroke="#6a6a6a" stroke-width="1.0"/>
<line x1="217.00" y1="198.39" x2="219.50" y2="198.39" stroke="#6a6a6a" stroke-width="1.0"/>
<line x1="217.00" y1="196.39" x2="219.50" y2="196.39" stroke="#6a6a6a" stroke-width="1.0"/>
<line x1="217.00" y1="194.38" x2="219.50" y2="194.38" stroke="#6a6a6a" stroke-width="1.0"/>
<line x1="217.00" y1="192.38" x2="219.50" y2="192.38" stroke="#6a6a6a" stroke-width="1.0"/>
<line x1="217.00" y1="190.37" x2="219.50" y2="190.37" stroke="#6a6a6a" stroke-width="1.0"/>
<line x1="217.00" y1="188.36" x2="219.50" y2="188.36" stroke="#6a6a6a" stroke-width="1.0"/>
<line x1="217.00" y1="186.36" x2="219.50" y2="186.36" stroke="#6a6a6a" stroke-width="1.0"/>
<line x1="217.00" y1="184.35" x2="219.50" y2="184.35" stroke="#6a6a6a" stroke-width="1.0"/>
<line x1="217.00" y1="182.35" x2="219.50" y2="182.35" stroke="#6a6a6a" stroke-width="1.0"/>
<line x1="217.00" y1="180.34" x2="219.50" y2="180.34" stroke="#6a6a6a" stroke-width="1.0"/>
<line x1="217.00" y1="178.33" x2="219.50" y2="178.33" stroke="#6a6a6a" stroke-width="1.0"/>
<line x1="216.90" y1="177.50" x2="216.90" y2="173.20" stroke="#6a6a6a" stroke-width="1.0"/>
<line x1="216.90" y1="250.70" x2="216.90" y2="248.20" stroke="#555" stroke-width="1.0"/>
<text transform="translate(216.90 258.70) scale(0.89 1)" font-size="9.0" text-anchor="middle" >0</text>
<line x1="222.17" y1="177.50" x2="222.17" y2="175.30" stroke="#6a6a6a" stroke-width="1.0"/>
<line x1="222.17" y1="250.70" x2="222.17" y2="249.30" stroke="#555" stroke-width="1.0"/>
<line x1="227.44" y1="177.50" x2="227.44" y2="175.30" stroke="#6a6a6a" stroke-width="1.0"/>
<line x1="227.44" y1="250.70" x2="227.44" y2="249.30" stroke="#555" stroke-width="1.0"/>
<line x1="232.70" y1="177.50" x2="232.70" y2="175.30" stroke="#6a6a6a" stroke-width="1.0"/>
<line x1="232.70" y1="250.70" x2="232.70" y2="249.30" stroke="#555" stroke-width="1.0"/>
<line x1="237.97" y1="177.50" x2="237.97" y2="173.20" stroke="#6a6a6a" stroke-width="1.0"/>
<line x1="237.97" y1="250.70" x2="237.97" y2="248.20" stroke="#555" stroke-width="1.0"/>
<text transform="translate(237.97 258.70) scale(0.89 1)" font-size="9.0" text-anchor="middle" >20</text>
<line x1="243.24" y1="177.50" x2="243.24" y2="175.30" stroke="#6a6a6a" stroke-width="1.0"/>
<line x1="243.24" y1="250.70" x2="243.24" y2="249.30" stroke="#555" stroke-width="1.0"/>
<line x1="248.51" y1="177.50" x2="248.51" y2="175.30" stroke="#6a6a6a" stroke-width="1.0"/>
<line x1="248.51" y1="250.70" x2="248.51" y2="249.30" stroke="#555" stroke-width="1.0"/>
<line x1="253.78" y1="177.50" x2="253.78" y2="175.30" stroke="#6a6a6a" stroke-width="1.0"/>
<line x1="253.78" y1="250.70" x2="253.78" y2="249.30" stroke="#555" stroke-width="1.0"/>
<line x1="259.04" y1="177.50" x2="259.04" y2="173.20" stroke="#6a6a6a" stroke-width="1.0"/>
<line x1="259.04" y1="250.70" x2="259.04" y2="248.20" stroke="#555" stroke-width="1.0"/>
<text transform="translate(259.04 258.70) scale(0.89 1)" font-size="9.0" text-anchor="middle" >40</text>
<line x1="264.31" y1="177.50" x2="264.31" y2="175.30" stroke="#6a6a6a" stroke-width="1.0"/>
<line x1="264.31" y1="250.70" x2="264.31" y2="249.30" stroke="#555" stroke-width="1.0"/>
<line x1="269.58" y1="177.50" x2="269.58" y2="175.30" stroke="#6a6a6a" stroke-width="1.0"/>
<line x1="269.58" y1="250.70" x2="269.58" y2="249.30" stroke="#555" stroke-width="1.0"/>
<line x1="274.85" y1="177.50" x2="274.85" y2="175.30" stroke="#6a6a6a" stroke-width="1.0"/>
<line x1="274.85" y1="250.70" x2="274.85" y2="249.30" stroke="#555" stroke-width="1.0"/>
<line x1="280.12" y1="177.50" x2="280.12" y2="173.20" stroke="#6a6a6a" stroke-width="1.0"/>
<line x1="280.12" y1="250.70" x2="280.12" y2="248.20" stroke="#555" stroke-width="1.0"/>
<text transform="translate(280.12 258.70) scale(0.89 1)" font-size="9.0" text-anchor="middle" >60</text>
<line x1="285.38" y1="177.50" x2="285.38" y2="175.30" stroke="#6a6a6a" stroke-width="1.0"/>
<line x1="285.38" y1="250.70" x2="285.38" y2="249.30" stroke="#555" stroke-width="1.0"/>
<line x1="290.65" y1="177.50" x2="290.65" y2="175.30" stroke="#6a6a6a" stroke-width="1.0"/>
<line x1="290.65" y1="250.70" x2="290.65" y2="249.30" stroke="#555" stroke-width="1.0"/>
<line x1="295.92" y1="177.50" x2="295.92" y2="175.30" stroke="#6a6a6a" stroke-width="1.0"/>
<line x1="295.92" y1="250.70" x2="295.92" y2="249.30" stroke="#555" stroke-width="1.0"/>
<line x1="301.19" y1="177.50" x2="301.19" y2="173.20" stroke="#6a6a6a" stroke-width="1.0"/>
<line x1="301.19" y1="250.70" x2="301.19" y2="248.20" stroke="#555" stroke-width="1.0"/>
<text transform="translate(301.19 258.70) scale(0.89 1)" font-size="9.0" text-anchor="middle" >80</text>
<line x1="306.46" y1="177.50" x2="306.46" y2="175.30" stroke="#6a6a6a" stroke-width="1.0"/>
<line x1="306.46" y1="250.70" x2="306.46" y2="249.30" stroke="#555" stroke-width="1.0"/>
<line x1="311.72" y1="177.50" x2="311.72" y2="175.30" stroke="#6a6a6a" stroke-width="1.0"/>
<line x1="311.72" y1="250.70" x2="311.72" y2="249.30" stroke="#555" stroke-width="1.0"/>
<line x1="316.99" y1="177.50" x2="316.99" y2="175.30" stroke="#6a6a6a" stroke-width="1.0"/>
<line x1="316.99" y1="250.70" x2="316.99" y2="249.30" stroke="#555" stroke-width="1.0"/>
<line x1="322.26" y1="177.50" x2="322.26" y2="173.20" stroke="#6a6a6a" stroke-width="1.0"/>
<line x1="322.26" y1="250.70" x2="322.26" y2="248.20" stroke="#555" stroke-width="1.0"/>
<g transform="translate(322.26 258.70) scale(0.89 1)"><text x="0" y="0" font-size="9.0" text-anchor="middle" > 00</text><path transform="translate(-7.508 0) scale(9.0)" d="M0.372 -0.703L0.372 0L0.284 0L0.284 -0.492L0.110 -0.492L0.110 -0.558C0.227 -0.572 0.264 -0.593 0.292 -0.703Z" fill="#000" stroke="#000" stroke-width="0.0244"/></g>
<line x1="327.53" y1="177.50" x2="327.53" y2="175.30" stroke="#6a6a6a" stroke-width="1.0"/>
<line x1="327.53" y1="250.70" x2="327.53" y2="249.30" stroke="#555" stroke-width="1.0"/>
<line x1="332.80" y1="177.50" x2="332.80" y2="175.30" stroke="#6a6a6a" stroke-width="1.0"/>
<line x1="332.80" y1="250.70" x2="332.80" y2="249.30" stroke="#555" stroke-width="1.0"/>
<line x1="338.06" y1="177.50" x2="338.06" y2="175.30" stroke="#6a6a6a" stroke-width="1.0"/>
<line x1="338.06" y1="250.70" x2="338.06" y2="249.30" stroke="#555" stroke-width="1.0"/>
<line x1="343.33" y1="177.50" x2="343.33" y2="173.20" stroke="#6a6a6a" stroke-width="1.0"/>
<line x1="343.33" y1="250.70" x2="343.33" y2="248.20" stroke="#555" stroke-width="1.0"/>
<g transform="translate(343.33 258.70) scale(0.89 1)"><text x="0" y="0" font-size="9.0" text-anchor="middle" > 20</text><path transform="translate(-7.508 0) scale(9.0)" d="M0.372 -0.703L0.372 0L0.284 0L0.284 -0.492L0.110 -0.492L0.110 -0.558C0.227 -0.572 0.264 -0.593 0.292 -0.703Z" fill="#000" stroke="#000" stroke-width="0.0244"/></g>
<line x1="348.60" y1="177.50" x2="348.60" y2="175.30" stroke="#6a6a6a" stroke-width="1.0"/>
<line x1="348.60" y1="250.70" x2="348.60" y2="249.30" stroke="#555" stroke-width="1.0"/>
<line x1="353.87" y1="177.50" x2="353.87" y2="175.30" stroke="#6a6a6a" stroke-width="1.0"/>
<line x1="353.87" y1="250.70" x2="353.87" y2="249.30" stroke="#555" stroke-width="1.0"/>
<line x1="359.14" y1="177.50" x2="359.14" y2="175.30" stroke="#6a6a6a" stroke-width="1.0"/>
<line x1="359.14" y1="250.70" x2="359.14" y2="249.30" stroke="#555" stroke-width="1.0"/>
<line x1="364.40" y1="177.50" x2="364.40" y2="173.20" stroke="#6a6a6a" stroke-width="1.0"/>
<line x1="364.40" y1="250.70" x2="364.40" y2="248.20" stroke="#555" stroke-width="1.0"/>
<g transform="translate(364.40 258.70) scale(0.89 1)"><text x="0" y="0" font-size="9.0" text-anchor="middle" > 40</text><path transform="translate(-7.508 0) scale(9.0)" d="M0.372 -0.703L0.372 0L0.284 0L0.284 -0.492L0.110 -0.492L0.110 -0.558C0.227 -0.572 0.264 -0.593 0.292 -0.703Z" fill="#000" stroke="#000" stroke-width="0.0244"/></g>
<line x1="369.67" y1="177.50" x2="369.67" y2="175.30" stroke="#6a6a6a" stroke-width="1.0"/>
<line x1="369.67" y1="250.70" x2="369.67" y2="249.30" stroke="#555" stroke-width="1.0"/>
<line x1="374.94" y1="177.50" x2="374.94" y2="175.30" stroke="#6a6a6a" stroke-width="1.0"/>
<line x1="374.94" y1="250.70" x2="374.94" y2="249.30" stroke="#555" stroke-width="1.0"/>
<line x1="380.21" y1="177.50" x2="380.21" y2="175.30" stroke="#6a6a6a" stroke-width="1.0"/>
<line x1="380.21" y1="250.70" x2="380.21" y2="249.30" stroke="#555" stroke-width="1.0"/>
<line x1="385.48" y1="177.50" x2="385.48" y2="173.20" stroke="#6a6a6a" stroke-width="1.0"/>
<line x1="385.48" y1="250.70" x2="385.48" y2="248.20" stroke="#555" stroke-width="1.0"/>
<g transform="translate(385.48 258.70) scale(0.89 1)"><text x="0" y="0" font-size="9.0" text-anchor="middle" > 60</text><path transform="translate(-7.508 0) scale(9.0)" d="M0.372 -0.703L0.372 0L0.284 0L0.284 -0.492L0.110 -0.492L0.110 -0.558C0.227 -0.572 0.264 -0.593 0.292 -0.703Z" fill="#000" stroke="#000" stroke-width="0.0244"/></g>
<line x1="390.74" y1="177.50" x2="390.74" y2="175.30" stroke="#6a6a6a" stroke-width="1.0"/>
<line x1="390.74" y1="250.70" x2="390.74" y2="249.30" stroke="#555" stroke-width="1.0"/>
<line x1="396.01" y1="177.50" x2="396.01" y2="175.30" stroke="#6a6a6a" stroke-width="1.0"/>
<line x1="396.01" y1="250.70" x2="396.01" y2="249.30" stroke="#555" stroke-width="1.0"/>
<line x1="401.28" y1="177.50" x2="401.28" y2="175.30" stroke="#6a6a6a" stroke-width="1.0"/>
<line x1="401.28" y1="250.70" x2="401.28" y2="249.30" stroke="#555" stroke-width="1.0"/>
<line x1="417.50" y1="9.00" x2="601.50" y2="9.00" stroke="#9a9a9a" stroke-width="1.0"/>
<line x1="417.50" y1="8.50" x2="417.50" y2="251.00" stroke="#9a9a9a" stroke-width="1.0"/>
<line x1="601.50" y1="8.50" x2="601.50" y2="251.00" stroke="#9a9a9a" stroke-width="1.0"/>
<line x1="417.00" y1="250.50" x2="602.00" y2="250.50" stroke="#b4b4b4" stroke-width="1.5"/>
<line x1="417.50" y1="177.50" x2="601.50" y2="177.50" stroke="#9a9a9a" stroke-width="1.0"/>
<line x1="417.50" y1="172.50" x2="423.50" y2="172.50" stroke="#6a6a6a" stroke-width="1.0"/>
<g transform="translate(416.60 175.70) scale(0.89 1)"><text x="0" y="0" font-size="9.0" text-anchor="end" > </text><path transform="translate(-5.005 0) scale(9.0)" d="M0.372 -0.703L0.372 0L0.284 0L0.284 -0.492L0.110 -0.492L0.110 -0.558C0.227 -0.572 0.264 -0.593 0.292 -0.703Z" fill="#000" stroke="#000" stroke-width="0.0244"/></g>
<line x1="417.50" y1="153.81" x2="423.50" y2="153.81" stroke="#6a6a6a" stroke-width="1.0"/>
<g transform="translate(416.60 157.01) scale(0.89 1)"><text x="0" y="0" font-size="9.0" text-anchor="end" > .2</text><path transform="translate(-12.511 0) scale(9.0)" d="M0.372 -0.703L0.372 0L0.284 0L0.284 -0.492L0.110 -0.492L0.110 -0.558C0.227 -0.572 0.264 -0.593 0.292 -0.703Z" fill="#000" stroke="#000" stroke-width="0.0244"/></g>
<line x1="417.50" y1="135.12" x2="423.50" y2="135.12" stroke="#6a6a6a" stroke-width="1.0"/>
<g transform="translate(416.60 138.32) scale(0.89 1)"><text x="0" y="0" font-size="9.0" text-anchor="end" > .4</text><path transform="translate(-12.511 0) scale(9.0)" d="M0.372 -0.703L0.372 0L0.284 0L0.284 -0.492L0.110 -0.492L0.110 -0.558C0.227 -0.572 0.264 -0.593 0.292 -0.703Z" fill="#000" stroke="#000" stroke-width="0.0244"/></g>
<line x1="417.50" y1="116.44" x2="423.50" y2="116.44" stroke="#6a6a6a" stroke-width="1.0"/>
<g transform="translate(416.60 119.64) scale(0.89 1)"><text x="0" y="0" font-size="9.0" text-anchor="end" > .6</text><path transform="translate(-12.511 0) scale(9.0)" d="M0.372 -0.703L0.372 0L0.284 0L0.284 -0.492L0.110 -0.492L0.110 -0.558C0.227 -0.572 0.264 -0.593 0.292 -0.703Z" fill="#000" stroke="#000" stroke-width="0.0244"/></g>
<line x1="417.50" y1="97.75" x2="423.50" y2="97.75" stroke="#6a6a6a" stroke-width="1.0"/>
<g transform="translate(416.60 100.95) scale(0.89 1)"><text x="0" y="0" font-size="9.0" text-anchor="end" > .8</text><path transform="translate(-12.511 0) scale(9.0)" d="M0.372 -0.703L0.372 0L0.284 0L0.284 -0.492L0.110 -0.492L0.110 -0.558C0.227 -0.572 0.264 -0.593 0.292 -0.703Z" fill="#000" stroke="#000" stroke-width="0.0244"/></g>
<line x1="417.50" y1="79.06" x2="423.50" y2="79.06" stroke="#6a6a6a" stroke-width="1.0"/>
<text transform="translate(416.60 82.26) scale(0.89 1)" font-size="9.0" text-anchor="end" >2</text>
<line x1="417.50" y1="60.37" x2="423.50" y2="60.37" stroke="#6a6a6a" stroke-width="1.0"/>
<text transform="translate(416.60 63.57) scale(0.89 1)" font-size="9.0" text-anchor="end" >2.2</text>
<line x1="417.50" y1="41.68" x2="423.50" y2="41.68" stroke="#6a6a6a" stroke-width="1.0"/>
<text transform="translate(416.60 44.88) scale(0.89 1)" font-size="9.0" text-anchor="end" >2.4</text>
<line x1="417.50" y1="23.00" x2="423.50" y2="23.00" stroke="#6a6a6a" stroke-width="1.0"/>
<text transform="translate(416.60 26.20) scale(0.89 1)" font-size="9.0" text-anchor="end" >2.6</text>
<line x1="417.50" y1="177.17" x2="420.50" y2="177.17" stroke="#6a6a6a" stroke-width="1.0"/>
<line x1="417.50" y1="172.50" x2="420.50" y2="172.50" stroke="#6a6a6a" stroke-width="1.0"/>
<line x1="417.50" y1="167.83" x2="420.50" y2="167.83" stroke="#6a6a6a" stroke-width="1.0"/>
<line x1="417.50" y1="163.16" x2="420.50" y2="163.16" stroke="#6a6a6a" stroke-width="1.0"/>
<line x1="417.50" y1="158.48" x2="420.50" y2="158.48" stroke="#6a6a6a" stroke-width="1.0"/>
<line x1="417.50" y1="153.81" x2="420.50" y2="153.81" stroke="#6a6a6a" stroke-width="1.0"/>
<line x1="417.50" y1="149.14" x2="420.50" y2="149.14" stroke="#6a6a6a" stroke-width="1.0"/>
<line x1="417.50" y1="144.47" x2="420.50" y2="144.47" stroke="#6a6a6a" stroke-width="1.0"/>
<line x1="417.50" y1="139.80" x2="420.50" y2="139.80" stroke="#6a6a6a" stroke-width="1.0"/>
<line x1="417.50" y1="135.12" x2="420.50" y2="135.12" stroke="#6a6a6a" stroke-width="1.0"/>
<line x1="417.50" y1="130.45" x2="420.50" y2="130.45" stroke="#6a6a6a" stroke-width="1.0"/>
<line x1="417.50" y1="125.78" x2="420.50" y2="125.78" stroke="#6a6a6a" stroke-width="1.0"/>
<line x1="417.50" y1="121.11" x2="420.50" y2="121.11" stroke="#6a6a6a" stroke-width="1.0"/>
<line x1="417.50" y1="116.44" x2="420.50" y2="116.44" stroke="#6a6a6a" stroke-width="1.0"/>
<line x1="417.50" y1="111.76" x2="420.50" y2="111.76" stroke="#6a6a6a" stroke-width="1.0"/>
<line x1="417.50" y1="107.09" x2="420.50" y2="107.09" stroke="#6a6a6a" stroke-width="1.0"/>
<line x1="417.50" y1="102.42" x2="420.50" y2="102.42" stroke="#6a6a6a" stroke-width="1.0"/>
<line x1="417.50" y1="97.75" x2="420.50" y2="97.75" stroke="#6a6a6a" stroke-width="1.0"/>
<line x1="417.50" y1="93.08" x2="420.50" y2="93.08" stroke="#6a6a6a" stroke-width="1.0"/>
<line x1="417.50" y1="88.40" x2="420.50" y2="88.40" stroke="#6a6a6a" stroke-width="1.0"/>
<line x1="417.50" y1="83.73" x2="420.50" y2="83.73" stroke="#6a6a6a" stroke-width="1.0"/>
<line x1="417.50" y1="79.06" x2="420.50" y2="79.06" stroke="#6a6a6a" stroke-width="1.0"/>
<line x1="417.50" y1="74.39" x2="420.50" y2="74.39" stroke="#6a6a6a" stroke-width="1.0"/>
<line x1="417.50" y1="69.72" x2="420.50" y2="69.72" stroke="#6a6a6a" stroke-width="1.0"/>
<line x1="417.50" y1="65.04" x2="420.50" y2="65.04" stroke="#6a6a6a" stroke-width="1.0"/>
<line x1="417.50" y1="60.37" x2="420.50" y2="60.37" stroke="#6a6a6a" stroke-width="1.0"/>
<line x1="417.50" y1="55.70" x2="420.50" y2="55.70" stroke="#6a6a6a" stroke-width="1.0"/>
<line x1="417.50" y1="51.03" x2="420.50" y2="51.03" stroke="#6a6a6a" stroke-width="1.0"/>
<line x1="417.50" y1="46.36" x2="420.50" y2="46.36" stroke="#6a6a6a" stroke-width="1.0"/>
<line x1="417.50" y1="41.68" x2="420.50" y2="41.68" stroke="#6a6a6a" stroke-width="1.0"/>
<line x1="417.50" y1="37.01" x2="420.50" y2="37.01" stroke="#6a6a6a" stroke-width="1.0"/>
<line x1="417.50" y1="32.34" x2="420.50" y2="32.34" stroke="#6a6a6a" stroke-width="1.0"/>
<line x1="417.50" y1="27.67" x2="420.50" y2="27.67" stroke="#6a6a6a" stroke-width="1.0"/>
<line x1="417.50" y1="23.00" x2="420.50" y2="23.00" stroke="#6a6a6a" stroke-width="1.0"/>
<line x1="417.50" y1="18.32" x2="420.50" y2="18.32" stroke="#6a6a6a" stroke-width="1.0"/>
<line x1="417.50" y1="13.65" x2="420.50" y2="13.65" stroke="#6a6a6a" stroke-width="1.0"/>
<line x1="417.50" y1="245.91" x2="422.50" y2="245.91" stroke="#6a6a6a" stroke-width="1.0"/>
<g transform="translate(416.60 249.11) scale(0.89 1)"><text x="0" y="0" font-size="9.0" text-anchor="end" >− 5</text><path transform="translate(-10.011 0) scale(9.0)" d="M0.372 -0.703L0.372 0L0.284 0L0.284 -0.492L0.110 -0.492L0.110 -0.558C0.227 -0.572 0.264 -0.593 0.292 -0.703Z" fill="#000" stroke="#000" stroke-width="0.0244"/></g>
<line x1="417.50" y1="233.59" x2="422.50" y2="233.59" stroke="#6a6a6a" stroke-width="1.0"/>
<g transform="translate(416.60 236.79) scale(0.89 1)"><text x="0" y="0" font-size="9.0" text-anchor="end" >− 0</text><path transform="translate(-10.011 0) scale(9.0)" d="M0.372 -0.703L0.372 0L0.284 0L0.284 -0.492L0.110 -0.492L0.110 -0.558C0.227 -0.572 0.264 -0.593 0.292 -0.703Z" fill="#000" stroke="#000" stroke-width="0.0244"/></g>
<line x1="417.50" y1="221.27" x2="422.50" y2="221.27" stroke="#6a6a6a" stroke-width="1.0"/>
<text transform="translate(416.60 224.47) scale(0.89 1)" font-size="9.0" text-anchor="end" >−5</text>
<line x1="417.50" y1="208.95" x2="422.50" y2="208.95" stroke="#6a6a6a" stroke-width="1.0"/>
<text transform="translate(416.60 212.15) scale(0.89 1)" font-size="9.0" text-anchor="end" >0</text>
<line x1="417.50" y1="196.63" x2="422.50" y2="196.63" stroke="#6a6a6a" stroke-width="1.0"/>
<text transform="translate(416.60 199.83) scale(0.89 1)" font-size="9.0" text-anchor="end" >5</text>
<line x1="417.50" y1="184.31" x2="422.50" y2="184.31" stroke="#6a6a6a" stroke-width="1.0"/>
<g transform="translate(416.60 187.51) scale(0.89 1)"><text x="0" y="0" font-size="9.0" text-anchor="end" > 0</text><path transform="translate(-10.011 0) scale(9.0)" d="M0.372 -0.703L0.372 0L0.284 0L0.284 -0.492L0.110 -0.492L0.110 -0.558C0.227 -0.572 0.264 -0.593 0.292 -0.703Z" fill="#000" stroke="#000" stroke-width="0.0244"/></g>
<line x1="417.50" y1="248.37" x2="420.00" y2="248.37" stroke="#6a6a6a" stroke-width="1.0"/>
<line x1="417.50" y1="245.91" x2="420.00" y2="245.91" stroke="#6a6a6a" stroke-width="1.0"/>
<line x1="417.50" y1="243.45" x2="420.00" y2="243.45" stroke="#6a6a6a" stroke-width="1.0"/>
<line x1="417.50" y1="240.98" x2="420.00" y2="240.98" stroke="#6a6a6a" stroke-width="1.0"/>
<line x1="417.50" y1="238.52" x2="420.00" y2="238.52" stroke="#6a6a6a" stroke-width="1.0"/>
<line x1="417.50" y1="236.05" x2="420.00" y2="236.05" stroke="#6a6a6a" stroke-width="1.0"/>
<line x1="417.50" y1="233.59" x2="420.00" y2="233.59" stroke="#6a6a6a" stroke-width="1.0"/>
<line x1="417.50" y1="231.13" x2="420.00" y2="231.13" stroke="#6a6a6a" stroke-width="1.0"/>
<line x1="417.50" y1="228.66" x2="420.00" y2="228.66" stroke="#6a6a6a" stroke-width="1.0"/>
<line x1="417.50" y1="226.20" x2="420.00" y2="226.20" stroke="#6a6a6a" stroke-width="1.0"/>
<line x1="417.50" y1="223.73" x2="420.00" y2="223.73" stroke="#6a6a6a" stroke-width="1.0"/>
<line x1="417.50" y1="221.27" x2="420.00" y2="221.27" stroke="#6a6a6a" stroke-width="1.0"/>
<line x1="417.50" y1="218.81" x2="420.00" y2="218.81" stroke="#6a6a6a" stroke-width="1.0"/>
<line x1="417.50" y1="216.34" x2="420.00" y2="216.34" stroke="#6a6a6a" stroke-width="1.0"/>
<line x1="417.50" y1="213.88" x2="420.00" y2="213.88" stroke="#6a6a6a" stroke-width="1.0"/>
<line x1="417.50" y1="211.41" x2="420.00" y2="211.41" stroke="#6a6a6a" stroke-width="1.0"/>
<line x1="417.50" y1="208.95" x2="420.00" y2="208.95" stroke="#6a6a6a" stroke-width="1.0"/>
<line x1="417.50" y1="206.49" x2="420.00" y2="206.49" stroke="#6a6a6a" stroke-width="1.0"/>
<line x1="417.50" y1="204.02" x2="420.00" y2="204.02" stroke="#6a6a6a" stroke-width="1.0"/>
<line x1="417.50" y1="201.56" x2="420.00" y2="201.56" stroke="#6a6a6a" stroke-width="1.0"/>
<line x1="417.50" y1="199.09" x2="420.00" y2="199.09" stroke="#6a6a6a" stroke-width="1.0"/>
<line x1="417.50" y1="196.63" x2="420.00" y2="196.63" stroke="#6a6a6a" stroke-width="1.0"/>
<line x1="417.50" y1="194.17" x2="420.00" y2="194.17" stroke="#6a6a6a" stroke-width="1.0"/>
<line x1="417.50" y1="191.70" x2="420.00" y2="191.70" stroke="#6a6a6a" stroke-width="1.0"/>
<line x1="417.50" y1="189.24" x2="420.00" y2="189.24" stroke="#6a6a6a" stroke-width="1.0"/>
<line x1="417.50" y1="186.77" x2="420.00" y2="186.77" stroke="#6a6a6a" stroke-width="1.0"/>
<line x1="417.50" y1="184.31" x2="420.00" y2="184.31" stroke="#6a6a6a" stroke-width="1.0"/>
<line x1="417.50" y1="181.85" x2="420.00" y2="181.85" stroke="#6a6a6a" stroke-width="1.0"/>
<line x1="417.50" y1="179.38" x2="420.00" y2="179.38" stroke="#6a6a6a" stroke-width="1.0"/>
<line x1="417.75" y1="177.50" x2="417.75" y2="173.20" stroke="#6a6a6a" stroke-width="1.0"/>
<line x1="417.75" y1="250.70" x2="417.75" y2="248.20" stroke="#555" stroke-width="1.0"/>
<text transform="translate(417.75 258.70) scale(0.89 1)" font-size="9.0" text-anchor="middle" >0</text>
<line x1="422.69" y1="177.50" x2="422.69" y2="175.30" stroke="#6a6a6a" stroke-width="1.0"/>
<line x1="422.69" y1="250.70" x2="422.69" y2="249.30" stroke="#555" stroke-width="1.0"/>
<line x1="427.62" y1="177.50" x2="427.62" y2="175.30" stroke="#6a6a6a" stroke-width="1.0"/>
<line x1="427.62" y1="250.70" x2="427.62" y2="249.30" stroke="#555" stroke-width="1.0"/>
<line x1="432.56" y1="177.50" x2="432.56" y2="175.30" stroke="#6a6a6a" stroke-width="1.0"/>
<line x1="432.56" y1="250.70" x2="432.56" y2="249.30" stroke="#555" stroke-width="1.0"/>
<line x1="437.50" y1="177.50" x2="437.50" y2="173.20" stroke="#6a6a6a" stroke-width="1.0"/>
<line x1="437.50" y1="250.70" x2="437.50" y2="248.20" stroke="#555" stroke-width="1.0"/>
<text transform="translate(437.50 258.70) scale(0.89 1)" font-size="9.0" text-anchor="middle" >20</text>
<line x1="442.44" y1="177.50" x2="442.44" y2="175.30" stroke="#6a6a6a" stroke-width="1.0"/>
<line x1="442.44" y1="250.70" x2="442.44" y2="249.30" stroke="#555" stroke-width="1.0"/>
<line x1="447.38" y1="177.50" x2="447.38" y2="175.30" stroke="#6a6a6a" stroke-width="1.0"/>
<line x1="447.38" y1="250.70" x2="447.38" y2="249.30" stroke="#555" stroke-width="1.0"/>
<line x1="452.31" y1="177.50" x2="452.31" y2="175.30" stroke="#6a6a6a" stroke-width="1.0"/>
<line x1="452.31" y1="250.70" x2="452.31" y2="249.30" stroke="#555" stroke-width="1.0"/>
<line x1="457.25" y1="177.50" x2="457.25" y2="173.20" stroke="#6a6a6a" stroke-width="1.0"/>
<line x1="457.25" y1="250.70" x2="457.25" y2="248.20" stroke="#555" stroke-width="1.0"/>
<text transform="translate(457.25 258.70) scale(0.89 1)" font-size="9.0" text-anchor="middle" >40</text>
<line x1="462.19" y1="177.50" x2="462.19" y2="175.30" stroke="#6a6a6a" stroke-width="1.0"/>
<line x1="462.19" y1="250.70" x2="462.19" y2="249.30" stroke="#555" stroke-width="1.0"/>
<line x1="467.12" y1="177.50" x2="467.12" y2="175.30" stroke="#6a6a6a" stroke-width="1.0"/>
<line x1="467.12" y1="250.70" x2="467.12" y2="249.30" stroke="#555" stroke-width="1.0"/>
<line x1="472.06" y1="177.50" x2="472.06" y2="175.30" stroke="#6a6a6a" stroke-width="1.0"/>
<line x1="472.06" y1="250.70" x2="472.06" y2="249.30" stroke="#555" stroke-width="1.0"/>
<line x1="477.00" y1="177.50" x2="477.00" y2="173.20" stroke="#6a6a6a" stroke-width="1.0"/>
<line x1="477.00" y1="250.70" x2="477.00" y2="248.20" stroke="#555" stroke-width="1.0"/>
<text transform="translate(477.00 258.70) scale(0.89 1)" font-size="9.0" text-anchor="middle" >60</text>
<line x1="481.94" y1="177.50" x2="481.94" y2="175.30" stroke="#6a6a6a" stroke-width="1.0"/>
<line x1="481.94" y1="250.70" x2="481.94" y2="249.30" stroke="#555" stroke-width="1.0"/>
<line x1="486.88" y1="177.50" x2="486.88" y2="175.30" stroke="#6a6a6a" stroke-width="1.0"/>
<line x1="486.88" y1="250.70" x2="486.88" y2="249.30" stroke="#555" stroke-width="1.0"/>
<line x1="491.81" y1="177.50" x2="491.81" y2="175.30" stroke="#6a6a6a" stroke-width="1.0"/>
<line x1="491.81" y1="250.70" x2="491.81" y2="249.30" stroke="#555" stroke-width="1.0"/>
<line x1="496.75" y1="177.50" x2="496.75" y2="173.20" stroke="#6a6a6a" stroke-width="1.0"/>
<line x1="496.75" y1="250.70" x2="496.75" y2="248.20" stroke="#555" stroke-width="1.0"/>
<text transform="translate(496.75 258.70) scale(0.89 1)" font-size="9.0" text-anchor="middle" >80</text>
<line x1="501.69" y1="177.50" x2="501.69" y2="175.30" stroke="#6a6a6a" stroke-width="1.0"/>
<line x1="501.69" y1="250.70" x2="501.69" y2="249.30" stroke="#555" stroke-width="1.0"/>
<line x1="506.62" y1="177.50" x2="506.62" y2="175.30" stroke="#6a6a6a" stroke-width="1.0"/>
<line x1="506.62" y1="250.70" x2="506.62" y2="249.30" stroke="#555" stroke-width="1.0"/>
<line x1="511.56" y1="177.50" x2="511.56" y2="175.30" stroke="#6a6a6a" stroke-width="1.0"/>
<line x1="511.56" y1="250.70" x2="511.56" y2="249.30" stroke="#555" stroke-width="1.0"/>
<line x1="516.50" y1="177.50" x2="516.50" y2="173.20" stroke="#6a6a6a" stroke-width="1.0"/>
<line x1="516.50" y1="250.70" x2="516.50" y2="248.20" stroke="#555" stroke-width="1.0"/>
<g transform="translate(516.50 258.70) scale(0.89 1)"><text x="0" y="0" font-size="9.0" text-anchor="middle" > 00</text><path transform="translate(-7.508 0) scale(9.0)" d="M0.372 -0.703L0.372 0L0.284 0L0.284 -0.492L0.110 -0.492L0.110 -0.558C0.227 -0.572 0.264 -0.593 0.292 -0.703Z" fill="#000" stroke="#000" stroke-width="0.0244"/></g>
<line x1="521.44" y1="177.50" x2="521.44" y2="175.30" stroke="#6a6a6a" stroke-width="1.0"/>
<line x1="521.44" y1="250.70" x2="521.44" y2="249.30" stroke="#555" stroke-width="1.0"/>
<line x1="526.38" y1="177.50" x2="526.38" y2="175.30" stroke="#6a6a6a" stroke-width="1.0"/>
<line x1="526.38" y1="250.70" x2="526.38" y2="249.30" stroke="#555" stroke-width="1.0"/>
<line x1="531.31" y1="177.50" x2="531.31" y2="175.30" stroke="#6a6a6a" stroke-width="1.0"/>
<line x1="531.31" y1="250.70" x2="531.31" y2="249.30" stroke="#555" stroke-width="1.0"/>
<line x1="536.25" y1="177.50" x2="536.25" y2="173.20" stroke="#6a6a6a" stroke-width="1.0"/>
<line x1="536.25" y1="250.70" x2="536.25" y2="248.20" stroke="#555" stroke-width="1.0"/>
<g transform="translate(536.25 258.70) scale(0.89 1)"><text x="0" y="0" font-size="9.0" text-anchor="middle" > 20</text><path transform="translate(-7.508 0) scale(9.0)" d="M0.372 -0.703L0.372 0L0.284 0L0.284 -0.492L0.110 -0.492L0.110 -0.558C0.227 -0.572 0.264 -0.593 0.292 -0.703Z" fill="#000" stroke="#000" stroke-width="0.0244"/></g>
<line x1="541.19" y1="177.50" x2="541.19" y2="175.30" stroke="#6a6a6a" stroke-width="1.0"/>
<line x1="541.19" y1="250.70" x2="541.19" y2="249.30" stroke="#555" stroke-width="1.0"/>
<line x1="546.12" y1="177.50" x2="546.12" y2="175.30" stroke="#6a6a6a" stroke-width="1.0"/>
<line x1="546.12" y1="250.70" x2="546.12" y2="249.30" stroke="#555" stroke-width="1.0"/>
<line x1="551.06" y1="177.50" x2="551.06" y2="175.30" stroke="#6a6a6a" stroke-width="1.0"/>
<line x1="551.06" y1="250.70" x2="551.06" y2="249.30" stroke="#555" stroke-width="1.0"/>
<line x1="556.00" y1="177.50" x2="556.00" y2="173.20" stroke="#6a6a6a" stroke-width="1.0"/>
<line x1="556.00" y1="250.70" x2="556.00" y2="248.20" stroke="#555" stroke-width="1.0"/>
<g transform="translate(556.00 258.70) scale(0.89 1)"><text x="0" y="0" font-size="9.0" text-anchor="middle" > 40</text><path transform="translate(-7.508 0) scale(9.0)" d="M0.372 -0.703L0.372 0L0.284 0L0.284 -0.492L0.110 -0.492L0.110 -0.558C0.227 -0.572 0.264 -0.593 0.292 -0.703Z" fill="#000" stroke="#000" stroke-width="0.0244"/></g>
<line x1="560.94" y1="177.50" x2="560.94" y2="175.30" stroke="#6a6a6a" stroke-width="1.0"/>
<line x1="560.94" y1="250.70" x2="560.94" y2="249.30" stroke="#555" stroke-width="1.0"/>
<line x1="565.88" y1="177.50" x2="565.88" y2="175.30" stroke="#6a6a6a" stroke-width="1.0"/>
<line x1="565.88" y1="250.70" x2="565.88" y2="249.30" stroke="#555" stroke-width="1.0"/>
<line x1="570.81" y1="177.50" x2="570.81" y2="175.30" stroke="#6a6a6a" stroke-width="1.0"/>
<line x1="570.81" y1="250.70" x2="570.81" y2="249.30" stroke="#555" stroke-width="1.0"/>
<line x1="575.75" y1="177.50" x2="575.75" y2="173.20" stroke="#6a6a6a" stroke-width="1.0"/>
<line x1="575.75" y1="250.70" x2="575.75" y2="248.20" stroke="#555" stroke-width="1.0"/>
<g transform="translate(575.75 258.70) scale(0.89 1)"><text x="0" y="0" font-size="9.0" text-anchor="middle" > 60</text><path transform="translate(-7.508 0) scale(9.0)" d="M0.372 -0.703L0.372 0L0.284 0L0.284 -0.492L0.110 -0.492L0.110 -0.558C0.227 -0.572 0.264 -0.593 0.292 -0.703Z" fill="#000" stroke="#000" stroke-width="0.0244"/></g>
<line x1="580.69" y1="177.50" x2="580.69" y2="175.30" stroke="#6a6a6a" stroke-width="1.0"/>
<line x1="580.69" y1="250.70" x2="580.69" y2="249.30" stroke="#555" stroke-width="1.0"/>
<line x1="585.62" y1="177.50" x2="585.62" y2="175.30" stroke="#6a6a6a" stroke-width="1.0"/>
<line x1="585.62" y1="250.70" x2="585.62" y2="249.30" stroke="#555" stroke-width="1.0"/>
<line x1="590.56" y1="177.50" x2="590.56" y2="175.30" stroke="#6a6a6a" stroke-width="1.0"/>
<line x1="590.56" y1="250.70" x2="590.56" y2="249.30" stroke="#555" stroke-width="1.0"/>
<line x1="595.50" y1="177.50" x2="595.50" y2="173.20" stroke="#6a6a6a" stroke-width="1.0"/>
<line x1="595.50" y1="250.70" x2="595.50" y2="248.20" stroke="#555" stroke-width="1.0"/>
<g transform="translate(595.50 258.70) scale(0.89 1)"><text x="0" y="0" font-size="9.0" text-anchor="middle" > 80</text><path transform="translate(-7.508 0) scale(9.0)" d="M0.372 -0.703L0.372 0L0.284 0L0.284 -0.492L0.110 -0.492L0.110 -0.558C0.227 -0.572 0.264 -0.593 0.292 -0.703Z" fill="#000" stroke="#000" stroke-width="0.0244"/></g>
<text transform="translate(111.50 6.30) scale(0.92 1)" font-size="9" text-anchor="middle" style="stroke-width:0.15px">H</text>
<text transform="translate(309.20 6.30) scale(0.88 1)" font-size="9" text-anchor="middle" style="stroke-width:0.15px">He</text>
<text transform="translate(509.30 6.30) scale(0.92 1)" font-size="9" text-anchor="middle" style="stroke-width:0.15px">C</text>
<text transform="translate(111.00 266.20) scale(0.915 1)" font-size="9.0" text-anchor="middle" >Depth in Water (mm)</text>
<text transform="translate(309.00 266.20) scale(0.915 1)" font-size="9.0" text-anchor="middle" >Depth in Water (mm)</text>
<text transform="translate(509.00 266.20) scale(0.915 1)" font-size="9.0" text-anchor="middle" >Depth in Water (mm)</text>
<text transform="translate(7.30 91.00) rotate(-90) scale(0.81 1)" font-size="9.3" text-anchor="middle" >RBE</text>
<text transform="translate(6.30 212.80) rotate(-90) scale(0.92 1)" font-size="9.3" text-anchor="middle" >PD (%)</text>
<defs><clipPath id="c1t"><rect x="19.5" y="9" width="184" height="168.5"/></clipPath><clipPath id="c1b"><rect x="19.5" y="177.5" width="184" height="73"/></clipPath><clipPath id="c2t"><rect x="217" y="9" width="184.5" height="168.5"/></clipPath><clipPath id="c2b"><rect x="217" y="177.5" width="184.5" height="73"/></clipPath><clipPath id="c3t"><rect x="417.5" y="9" width="184" height="168.5"/></clipPath><clipPath id="c3b"><rect x="417.5" y="177.5" width="184" height="73"/></clipPath></defs>
<line x1="182.4" y1="9" x2="182.4" y2="250.5" stroke="#000" stroke-width="1.9" stroke-dasharray="2.6 2.36" stroke-dashoffset="4.42"/>
<line x1="380.0" y1="9" x2="380.0" y2="250.5" stroke="#000" stroke-width="1.9" stroke-dasharray="2.6 2.36" stroke-dashoffset="4.42"/>
<line x1="578.2" y1="9" x2="578.2" y2="250.5" stroke="#000" stroke-width="1.9" stroke-dasharray="2.6 2.36" stroke-dashoffset="4.42"/>
<g clip-path="url(#c1t)">
<polyline points="29.70,137.50 72.00,142.00 103.70,138.50 146.00,135.20 166.50,130.00 176.50,115.00 182.30,84.00 188.50,16.20" fill="none" stroke="#000000" stroke-width="1.5" stroke-linejoin="round"/>
<line x1="29.70" y1="127.90" x2="29.70" y2="147.10" stroke="#000000" stroke-width="1.5"/>
<line x1="72.00" y1="135.00" x2="72.00" y2="149.00" stroke="#000000" stroke-width="1.5"/>
<line x1="103.70" y1="131.80" x2="103.70" y2="145.20" stroke="#000000" stroke-width="1.5"/>
<line x1="146.00" y1="130.90" x2="146.00" y2="139.50" stroke="#000000" stroke-width="1.5"/>
<line x1="166.50" y1="126.00" x2="166.50" y2="134.00" stroke="#000000" stroke-width="1.5"/>
<line x1="176.50" y1="111.00" x2="176.50" y2="119.00" stroke="#000000" stroke-width="1.5"/>
<line x1="182.30" y1="80.00" x2="182.30" y2="88.00" stroke="#000000" stroke-width="1.5"/>
<line x1="188.50" y1="9.20" x2="188.50" y2="23.20" stroke="#000000" stroke-width="1.5"/>
<circle cx="29.70" cy="137.50" r="4.07" fill="#000"/>
<circle cx="72.00" cy="142.00" r="4.07" fill="#000"/>
<circle cx="103.70" cy="138.50" r="4.07" fill="#000"/>
<circle cx="146.00" cy="135.20" r="4.07" fill="#000"/>
<circle cx="166.50" cy="130.00" r="4.07" fill="#000"/>
<circle cx="176.50" cy="115.00" r="4.07" fill="#000"/>
<circle cx="182.30" cy="84.00" r="4.07" fill="#000"/>
<circle cx="188.50" cy="16.20" r="4.07" fill="#000"/>
<polyline points="29.70,145.20 72.00,143.90 103.70,142.50 146.00,138.40 166.50,132.00 176.50,117.00 182.30,86.00 188.50,20.00" fill="none" stroke="#ff0000" stroke-width="1.5" stroke-linejoin="round"/>
<path d="M28.29 141.05h2.82v2.74h2.74v2.82h-2.74v2.74h-2.82v-2.74h-2.74v-2.82h2.74z" fill="#ff0000"/>
<path d="M70.59 139.75h2.82v2.74h2.74v2.82h-2.74v2.74h-2.82v-2.74h-2.74v-2.82h2.74z" fill="#ff0000"/>
<path d="M102.29 138.35h2.82v2.74h2.74v2.82h-2.74v2.74h-2.82v-2.74h-2.74v-2.82h2.74z" fill="#ff0000"/>
<path d="M144.59 134.25h2.82v2.74h2.74v2.82h-2.74v2.74h-2.82v-2.74h-2.74v-2.82h2.74z" fill="#ff0000"/>
<path d="M165.09 127.85h2.82v2.74h2.74v2.82h-2.74v2.74h-2.82v-2.74h-2.74v-2.82h2.74z" fill="#ff0000"/>
<path d="M175.09 112.85h2.82v2.74h2.74v2.82h-2.74v2.74h-2.82v-2.74h-2.74v-2.82h2.74z" fill="#ff0000"/>
<path d="M180.89 81.85h2.82v2.74h2.74v2.82h-2.74v2.74h-2.82v-2.74h-2.74v-2.82h2.74z" fill="#ff0000"/>
<path d="M187.09 15.85h2.82v2.74h2.74v2.82h-2.74v2.74h-2.82v-2.74h-2.74v-2.82h2.74z" fill="#ff0000"/>
<polyline points="29.70,145.50 72.00,142.80 103.70,147.00 146.00,141.00 166.50,133.00 176.50,118.00 182.30,86.50 188.50,25.50" fill="none" stroke="#0000ff" stroke-width="1.5" stroke-linejoin="round"/>
<rect x="26.15" y="141.95" width="7.10" height="7.10" fill="none" stroke="#0000ff" stroke-width="1.2"/>
<rect x="68.45" y="139.25" width="7.10" height="7.10" fill="none" stroke="#0000ff" stroke-width="1.2"/>
<rect x="100.15" y="143.45" width="7.10" height="7.10" fill="none" stroke="#0000ff" stroke-width="1.2"/>
<rect x="142.45" y="137.45" width="7.10" height="7.10" fill="none" stroke="#0000ff" stroke-width="1.2"/>
<rect x="162.95" y="129.45" width="7.10" height="7.10" fill="none" stroke="#0000ff" stroke-width="1.2"/>
<rect x="172.95" y="114.45" width="7.10" height="7.10" fill="none" stroke="#0000ff" stroke-width="1.2"/>
<rect x="178.75" y="82.95" width="7.10" height="7.10" fill="none" stroke="#0000ff" stroke-width="1.2"/>
<rect x="184.95" y="21.95" width="7.10" height="7.10" fill="none" stroke="#0000ff" stroke-width="1.2"/>
<polyline points="29.70,148.50 72.00,145.50 103.70,144.00 146.00,142.20 166.50,134.60 176.50,119.70 182.30,90.00 188.50,29.00" fill="none" stroke="#ff00ff" stroke-width="1.5" stroke-linejoin="round"/>
<rect x="25.55" y="144.35" width="8.30" height="8.30" fill="#ff00ff"/>
<rect x="67.85" y="141.35" width="8.30" height="8.30" fill="#ff00ff"/>
<rect x="99.55" y="139.85" width="8.30" height="8.30" fill="#ff00ff"/>
<rect x="141.85" y="138.05" width="8.30" height="8.30" fill="#ff00ff"/>
<rect x="162.35" y="130.45" width="8.30" height="8.30" fill="#ff00ff"/>
<rect x="172.35" y="115.55" width="8.30" height="8.30" fill="#ff00ff"/>
<rect x="178.15" y="85.85" width="8.30" height="8.30" fill="#ff00ff"/>
<rect x="184.35" y="24.85" width="8.30" height="8.30" fill="#ff00ff"/>
<polyline points="29.70,153.00 72.00,147.50 103.70,146.00 146.00,145.00 166.50,137.00 176.50,122.00 182.30,96.00 188.50,35.50" fill="none" stroke="#33cc33" stroke-width="1.5" stroke-linejoin="round"/>
<line x1="29.70" y1="147.00" x2="29.70" y2="159.00" stroke="#33cc33" stroke-width="1.5"/>
<line x1="72.00" y1="142.50" x2="72.00" y2="152.50" stroke="#33cc33" stroke-width="1.5"/>
<line x1="103.70" y1="141.00" x2="103.70" y2="151.00" stroke="#33cc33" stroke-width="1.5"/>
<line x1="146.00" y1="141.00" x2="146.00" y2="149.00" stroke="#33cc33" stroke-width="1.5"/>
<line x1="166.50" y1="134.00" x2="166.50" y2="140.00" stroke="#33cc33" stroke-width="1.5"/>
<line x1="176.50" y1="119.00" x2="176.50" y2="125.00" stroke="#33cc33" stroke-width="1.5"/>
<line x1="182.30" y1="93.00" x2="182.30" y2="99.00" stroke="#33cc33" stroke-width="1.5"/>
<line x1="188.50" y1="31.50" x2="188.50" y2="39.50" stroke="#33cc33" stroke-width="1.5"/>
<path d="M29.70 148.85L33.85 156.32L25.55 156.32z" fill="#33cc33"/>
<path d="M72.00 143.35L76.15 150.82L67.85 150.82z" fill="#33cc33"/>
<path d="M103.70 141.85L107.85 149.32L99.55 149.32z" fill="#33cc33"/>
<path d="M146.00 140.85L150.15 148.32L141.85 148.32z" fill="#33cc33"/>
<path d="M166.50 132.85L170.65 140.32L162.35 140.32z" fill="#33cc33"/>
<path d="M176.50 117.85L180.65 125.32L172.35 125.32z" fill="#33cc33"/>
<path d="M182.30 91.85L186.45 99.32L178.15 99.32z" fill="#33cc33"/>
<path d="M188.50 31.35L192.65 38.82L184.35 38.82z" fill="#33cc33"/>
<polyline points="29.70,151.50 72.00,149.50 103.70,148.80 146.00,146.80 166.50,139.00 176.50,124.00 182.30,95.00 188.50,39.20" fill="none" stroke="#000000" stroke-width="1.5" stroke-linejoin="round"/>
<path d="M25.55 148.18L33.85 148.18L29.70 155.65z" fill="#000"/>
<path d="M67.85 146.18L76.15 146.18L72.00 153.65z" fill="#000"/>
<path d="M99.55 145.48L107.85 145.48L103.70 152.95z" fill="#000"/>
<path d="M141.85 143.48L150.15 143.48L146.00 150.95z" fill="#000"/>
<path d="M162.35 135.68L170.65 135.68L166.50 143.15z" fill="#000"/>
<path d="M172.35 120.68L180.65 120.68L176.50 128.15z" fill="#000"/>
<path d="M178.15 91.68L186.45 91.68L182.30 99.15z" fill="#000"/>
<path d="M184.35 35.88L192.65 35.88L188.50 43.35z" fill="#000"/>
<polyline points="29.70,156.20 72.00,154.00 103.70,154.50 146.00,149.60 166.50,143.00 176.50,127.20 182.30,99.00 188.50,47.30" fill="none" stroke="#ff0000" stroke-width="1.5" stroke-linejoin="round"/>
<line x1="29.70" y1="144.40" x2="29.70" y2="168.00" stroke="#ff0000" stroke-width="1.5"/>
<line x1="72.00" y1="142.50" x2="72.00" y2="165.50" stroke="#ff0000" stroke-width="1.5"/>
<line x1="103.70" y1="146.90" x2="103.70" y2="162.10" stroke="#ff0000" stroke-width="1.5"/>
<line x1="146.00" y1="143.90" x2="146.00" y2="155.30" stroke="#ff0000" stroke-width="1.5"/>
<line x1="166.50" y1="138.00" x2="166.50" y2="148.00" stroke="#ff0000" stroke-width="1.5"/>
<line x1="176.50" y1="122.20" x2="176.50" y2="132.20" stroke="#ff0000" stroke-width="1.5"/>
<line x1="182.30" y1="94.00" x2="182.30" y2="104.00" stroke="#ff0000" stroke-width="1.5"/>
<line x1="188.50" y1="41.30" x2="188.50" y2="53.30" stroke="#ff0000" stroke-width="1.5"/>
<path d="M29.70 151.93L32.44 156.20L29.70 160.47L26.96 156.20z" fill="#ff0000"/>
<path d="M72.00 149.73L74.74 154.00L72.00 158.27L69.26 154.00z" fill="#ff0000"/>
<path d="M103.70 150.23L106.44 154.50L103.70 158.77L100.96 154.50z" fill="#ff0000"/>
<path d="M146.00 145.33L148.74 149.60L146.00 153.87L143.26 149.60z" fill="#ff0000"/>
<path d="M166.50 138.73L169.24 143.00L166.50 147.27L163.76 143.00z" fill="#ff0000"/>
<path d="M176.50 122.93L179.24 127.20L176.50 131.47L173.76 127.20z" fill="#ff0000"/>
<path d="M182.30 94.73L185.04 99.00L182.30 103.27L179.56 99.00z" fill="#ff0000"/>
<path d="M188.50 43.03L191.24 47.30L188.50 51.57L185.76 47.30z" fill="#ff0000"/>
</g>
<g clip-path="url(#c1b)">
<polyline points="29.70,198.20 72.00,206.90 103.70,204.30 146.00,201.00 166.50,203.50 176.50,203.00 182.30,214.50 188.50,201.50" fill="none" stroke="#000000" stroke-width="1.5" stroke-linejoin="round"/>
<circle cx="29.70" cy="198.20" r="4.07" fill="#000"/>
<circle cx="72.00" cy="206.90" r="4.07" fill="#000"/>
<circle cx="103.70" cy="204.30" r="4.07" fill="#000"/>
<circle cx="146.00" cy="201.00" r="4.07" fill="#000"/>
<circle cx="166.50" cy="203.50" r="4.07" fill="#000"/>
<circle cx="176.50" cy="203.00" r="4.07" fill="#000"/>
<circle cx="182.30" cy="214.50" r="4.07" fill="#000"/>
<circle cx="188.50" cy="201.50" r="4.07" fill="#000"/>
<polyline points="29.70,205.00 72.00,211.00 103.70,206.90 146.00,206.00 166.50,207.00 176.50,206.50 182.30,208.00 188.50,205.00" fill="none" stroke="#ff0000" stroke-width="1.5" stroke-linejoin="round"/>
<path d="M28.29 200.85h2.82v2.74h2.74v2.82h-2.74v2.74h-2.82v-2.74h-2.74v-2.82h2.74z" fill="#ff0000"/>
<path d="M70.59 206.85h2.82v2.74h2.74v2.82h-2.74v2.74h-2.82v-2.74h-2.74v-2.82h2.74z" fill="#ff0000"/>
<path d="M102.29 202.75h2.82v2.74h2.74v2.82h-2.74v2.74h-2.82v-2.74h-2.74v-2.82h2.74z" fill="#ff0000"/>
<path d="M144.59 201.85h2.82v2.74h2.74v2.82h-2.74v2.74h-2.82v-2.74h-2.74v-2.82h2.74z" fill="#ff0000"/>
<path d="M165.09 202.85h2.82v2.74h2.74v2.82h-2.74v2.74h-2.82v-2.74h-2.74v-2.82h2.74z" fill="#ff0000"/>
<path d="M175.09 202.35h2.82v2.74h2.74v2.82h-2.74v2.74h-2.82v-2.74h-2.74v-2.82h2.74z" fill="#ff0000"/>
<path d="M180.89 203.85h2.82v2.74h2.74v2.82h-2.74v2.74h-2.82v-2.74h-2.74v-2.82h2.74z" fill="#ff0000"/>
<path d="M187.09 200.85h2.82v2.74h2.74v2.82h-2.74v2.74h-2.82v-2.74h-2.74v-2.82h2.74z" fill="#ff0000"/>
<polyline points="29.70,207.70 72.00,207.70 103.70,216.00 146.00,210.50 166.50,211.00 176.50,209.50 182.30,210.00 188.50,207.00" fill="none" stroke="#0000ff" stroke-width="1.5" stroke-linejoin="round"/>
<rect x="26.15" y="204.15" width="7.10" height="7.10" fill="none" stroke="#0000ff" stroke-width="1.2"/>
<rect x="68.45" y="204.15" width="7.10" height="7.10" fill="none" stroke="#0000ff" stroke-width="1.2"/>
<rect x="100.15" y="212.45" width="7.10" height="7.10" fill="none" stroke="#0000ff" stroke-width="1.2"/>
<rect x="142.45" y="206.95" width="7.10" height="7.10" fill="none" stroke="#0000ff" stroke-width="1.2"/>
<rect x="162.95" y="207.45" width="7.10" height="7.10" fill="none" stroke="#0000ff" stroke-width="1.2"/>
<rect x="172.95" y="205.95" width="7.10" height="7.10" fill="none" stroke="#0000ff" stroke-width="1.2"/>
<rect x="178.75" y="206.45" width="7.10" height="7.10" fill="none" stroke="#0000ff" stroke-width="1.2"/>
<rect x="184.95" y="203.45" width="7.10" height="7.10" fill="none" stroke="#0000ff" stroke-width="1.2"/>
<polyline points="29.70,211.70 72.00,211.90 103.70,211.90 146.00,210.30 166.50,211.10 176.50,212.00 182.30,212.00 188.50,212.20" fill="none" stroke="#ff00ff" stroke-width="1.5" stroke-linejoin="round"/>
<rect x="25.55" y="207.55" width="8.30" height="8.30" fill="#ff00ff"/>
<rect x="67.85" y="207.75" width="8.30" height="8.30" fill="#ff00ff"/>
<rect x="99.55" y="207.75" width="8.30" height="8.30" fill="#ff00ff"/>
<rect x="141.85" y="206.15" width="8.30" height="8.30" fill="#ff00ff"/>
<rect x="162.35" y="206.95" width="8.30" height="8.30" fill="#ff00ff"/>
<rect x="172.35" y="207.85" width="8.30" height="8.30" fill="#ff00ff"/>
<rect x="178.15" y="207.85" width="8.30" height="8.30" fill="#ff00ff"/>
<rect x="184.35" y="208.05" width="8.30" height="8.30" fill="#ff00ff"/>
<polyline points="29.70,219.20 72.00,214.50 103.70,213.60 146.00,214.00 166.50,213.70 176.50,213.00 182.30,216.00 188.50,219.00" fill="none" stroke="#33cc33" stroke-width="1.5" stroke-linejoin="round"/>
<path d="M29.70 215.05L33.85 222.52L25.55 222.52z" fill="#33cc33"/>
<path d="M72.00 210.35L76.15 217.82L67.85 217.82z" fill="#33cc33"/>
<path d="M103.70 209.45L107.85 216.92L99.55 216.92z" fill="#33cc33"/>
<path d="M146.00 209.85L150.15 217.32L141.85 217.32z" fill="#33cc33"/>
<path d="M166.50 209.55L170.65 217.02L162.35 217.02z" fill="#33cc33"/>
<path d="M176.50 208.85L180.65 216.32L172.35 216.32z" fill="#33cc33"/>
<path d="M182.30 211.85L186.45 219.32L178.15 219.32z" fill="#33cc33"/>
<path d="M188.50 214.85L192.65 222.32L184.35 222.32z" fill="#33cc33"/>
<polyline points="29.70,215.50 72.00,217.00 103.70,219.50 146.00,214.50 166.50,216.20 176.50,217.00 182.30,215.00 188.50,223.50" fill="none" stroke="#000000" stroke-width="1.5" stroke-linejoin="round"/>
<path d="M25.55 212.18L33.85 212.18L29.70 219.65z" fill="#000"/>
<path d="M67.85 213.68L76.15 213.68L72.00 221.15z" fill="#000"/>
<path d="M99.55 216.18L107.85 216.18L103.70 223.65z" fill="#000"/>
<path d="M141.85 211.18L150.15 211.18L146.00 218.65z" fill="#000"/>
<path d="M162.35 212.88L170.65 212.88L166.50 220.35z" fill="#000"/>
<path d="M172.35 213.68L180.65 213.68L176.50 221.15z" fill="#000"/>
<path d="M178.15 211.68L186.45 211.68L182.30 219.15z" fill="#000"/>
<path d="M184.35 220.18L192.65 220.18L188.50 227.65z" fill="#000"/>
<polyline points="29.70,223.30 72.00,225.40 103.70,226.30 146.00,220.40 166.50,220.40 176.50,220.50 182.30,222.50 188.50,231.00" fill="none" stroke="#ff0000" stroke-width="1.5" stroke-linejoin="round"/>
<path d="M29.70 219.03L32.44 223.30L29.70 227.57L26.96 223.30z" fill="#ff0000"/>
<path d="M72.00 221.13L74.74 225.40L72.00 229.67L69.26 225.40z" fill="#ff0000"/>
<path d="M103.70 222.03L106.44 226.30L103.70 230.57L100.96 226.30z" fill="#ff0000"/>
<path d="M146.00 216.13L148.74 220.40L146.00 224.67L143.26 220.40z" fill="#ff0000"/>
<path d="M166.50 216.13L169.24 220.40L166.50 224.67L163.76 220.40z" fill="#ff0000"/>
<path d="M176.50 216.23L179.24 220.50L176.50 224.77L173.76 220.50z" fill="#ff0000"/>
<path d="M182.30 218.23L185.04 222.50L182.30 226.77L179.56 222.50z" fill="#ff0000"/>
<path d="M188.50 226.73L191.24 231.00L188.50 235.27L185.76 231.00z" fill="#ff0000"/>
</g>
<g clip-path="url(#c2t)">
<polyline points="227.70,165.00 269.50,164.00 301.20,163.30 343.20,161.00 364.20,157.00 374.50,150.00 380.20,137.00 385.40,25.00" fill="none" stroke="#000000" stroke-width="1.5" stroke-linejoin="round"/>
<line x1="227.70" y1="162.00" x2="227.70" y2="168.00" stroke="#000000" stroke-width="1.5"/>
<line x1="269.50" y1="161.00" x2="269.50" y2="167.00" stroke="#000000" stroke-width="1.5"/>
<line x1="301.20" y1="160.30" x2="301.20" y2="166.30" stroke="#000000" stroke-width="1.5"/>
<line x1="343.20" y1="158.00" x2="343.20" y2="164.00" stroke="#000000" stroke-width="1.5"/>
<line x1="364.20" y1="154.00" x2="364.20" y2="160.00" stroke="#000000" stroke-width="1.5"/>
<line x1="374.50" y1="147.00" x2="374.50" y2="153.00" stroke="#000000" stroke-width="1.5"/>
<line x1="380.20" y1="134.00" x2="380.20" y2="140.00" stroke="#000000" stroke-width="1.5"/>
<line x1="385.40" y1="18.00" x2="385.40" y2="32.00" stroke="#000000" stroke-width="1.5"/>
<circle cx="227.70" cy="165.00" r="4.07" fill="#000"/>
<circle cx="269.50" cy="164.00" r="4.07" fill="#000"/>
<circle cx="301.20" cy="163.30" r="4.07" fill="#000"/>
<circle cx="343.20" cy="161.00" r="4.07" fill="#000"/>
<circle cx="364.20" cy="157.00" r="4.07" fill="#000"/>
<circle cx="374.50" cy="150.00" r="4.07" fill="#000"/>
<circle cx="380.20" cy="137.00" r="4.07" fill="#000"/>
<circle cx="385.40" cy="25.00" r="4.07" fill="#000"/>
<polyline points="227.70,163.50 269.50,162.20 301.20,161.00 343.20,158.30 364.20,153.70 374.50,146.40 380.20,133.00 385.40,26.00" fill="none" stroke="#ff0000" stroke-width="1.5" stroke-linejoin="round"/>
<path d="M226.29 159.35h2.82v2.74h2.74v2.82h-2.74v2.74h-2.82v-2.74h-2.74v-2.82h2.74z" fill="#ff0000"/>
<path d="M268.09 158.05h2.82v2.74h2.74v2.82h-2.74v2.74h-2.82v-2.74h-2.74v-2.82h2.74z" fill="#ff0000"/>
<path d="M299.79 156.85h2.82v2.74h2.74v2.82h-2.74v2.74h-2.82v-2.74h-2.74v-2.82h2.74z" fill="#ff0000"/>
<path d="M341.79 154.15h2.82v2.74h2.74v2.82h-2.74v2.74h-2.82v-2.74h-2.74v-2.82h2.74z" fill="#ff0000"/>
<path d="M362.79 149.55h2.82v2.74h2.74v2.82h-2.74v2.74h-2.82v-2.74h-2.74v-2.82h2.74z" fill="#ff0000"/>
<path d="M373.09 142.25h2.82v2.74h2.74v2.82h-2.74v2.74h-2.82v-2.74h-2.74v-2.82h2.74z" fill="#ff0000"/>
<path d="M378.79 128.85h2.82v2.74h2.74v2.82h-2.74v2.74h-2.82v-2.74h-2.74v-2.82h2.74z" fill="#ff0000"/>
<path d="M383.99 21.85h2.82v2.74h2.74v2.82h-2.74v2.74h-2.82v-2.74h-2.74v-2.82h2.74z" fill="#ff0000"/>
<polyline points="227.70,165.50 269.50,164.50 301.20,164.00 343.20,161.70 364.20,158.00 374.50,150.60 380.20,138.00 385.40,24.50" fill="none" stroke="#0000ff" stroke-width="1.5" stroke-linejoin="round"/>
<rect x="224.15" y="161.95" width="7.10" height="7.10" fill="none" stroke="#0000ff" stroke-width="1.2"/>
<rect x="265.95" y="160.95" width="7.10" height="7.10" fill="none" stroke="#0000ff" stroke-width="1.2"/>
<rect x="297.65" y="160.45" width="7.10" height="7.10" fill="none" stroke="#0000ff" stroke-width="1.2"/>
<rect x="339.65" y="158.15" width="7.10" height="7.10" fill="none" stroke="#0000ff" stroke-width="1.2"/>
<rect x="360.65" y="154.45" width="7.10" height="7.10" fill="none" stroke="#0000ff" stroke-width="1.2"/>
<rect x="370.95" y="147.05" width="7.10" height="7.10" fill="none" stroke="#0000ff" stroke-width="1.2"/>
<rect x="376.65" y="134.45" width="7.10" height="7.10" fill="none" stroke="#0000ff" stroke-width="1.2"/>
<rect x="381.85" y="20.95" width="7.10" height="7.10" fill="none" stroke="#0000ff" stroke-width="1.2"/>
<polyline points="227.70,164.00 269.50,164.00 301.20,163.30 343.20,161.00 364.20,157.00 374.50,150.00 380.20,137.00 385.40,25.00" fill="none" stroke="#ff00ff" stroke-width="1.5" stroke-linejoin="round"/>
<rect x="223.55" y="159.85" width="8.30" height="8.30" fill="#ff00ff"/>
<rect x="265.35" y="159.85" width="8.30" height="8.30" fill="#ff00ff"/>
<rect x="297.05" y="159.15" width="8.30" height="8.30" fill="#ff00ff"/>
<rect x="339.05" y="156.85" width="8.30" height="8.30" fill="#ff00ff"/>
<rect x="360.05" y="152.85" width="8.30" height="8.30" fill="#ff00ff"/>
<rect x="370.35" y="145.85" width="8.30" height="8.30" fill="#ff00ff"/>
<rect x="376.05" y="132.85" width="8.30" height="8.30" fill="#ff00ff"/>
<rect x="381.25" y="20.85" width="8.30" height="8.30" fill="#ff00ff"/>
<polyline points="227.70,164.00 269.50,162.70 301.20,161.60 343.20,158.80 364.20,154.20 374.50,147.00 380.20,133.50 385.40,26.00" fill="none" stroke="#33cc33" stroke-width="1.5" stroke-linejoin="round"/>
<path d="M227.70 159.85L231.85 167.32L223.55 167.32z" fill="#33cc33"/>
<path d="M269.50 158.55L273.65 166.02L265.35 166.02z" fill="#33cc33"/>
<path d="M301.20 157.45L305.35 164.92L297.05 164.92z" fill="#33cc33"/>
<path d="M343.20 154.65L347.35 162.12L339.05 162.12z" fill="#33cc33"/>
<path d="M364.20 150.05L368.35 157.52L360.05 157.52z" fill="#33cc33"/>
<path d="M374.50 142.85L378.65 150.32L370.35 150.32z" fill="#33cc33"/>
<path d="M380.20 129.35L384.35 136.82L376.05 136.82z" fill="#33cc33"/>
<path d="M385.40 21.85L389.55 29.32L381.25 29.32z" fill="#33cc33"/>
<polyline points="227.70,163.30 269.50,162.00 301.20,160.90 343.20,158.10 364.20,153.50 374.50,146.00 380.20,132.50 385.40,29.50" fill="none" stroke="#000000" stroke-width="1.5" stroke-linejoin="round"/>
<path d="M223.55 159.98L231.85 159.98L227.70 167.45z" fill="#000"/>
<path d="M265.35 158.68L273.65 158.68L269.50 166.15z" fill="#000"/>
<path d="M297.05 157.58L305.35 157.58L301.20 165.05z" fill="#000"/>
<path d="M339.05 154.78L347.35 154.78L343.20 162.25z" fill="#000"/>
<path d="M360.05 150.18L368.35 150.18L364.20 157.65z" fill="#000"/>
<path d="M370.35 142.68L378.65 142.68L374.50 150.15z" fill="#000"/>
<path d="M376.05 129.18L384.35 129.18L380.20 136.65z" fill="#000"/>
<path d="M381.25 26.18L389.55 26.18L385.40 33.65z" fill="#000"/>
<polyline points="227.70,163.30 269.50,162.00 301.20,160.90 343.20,158.10 364.20,153.50 374.50,146.20 380.20,132.70 385.40,35.50" fill="none" stroke="#ff0000" stroke-width="1.5" stroke-linejoin="round"/>
<line x1="227.70" y1="158.30" x2="227.70" y2="168.30" stroke="#ff0000" stroke-width="1.5"/>
<line x1="269.50" y1="157.50" x2="269.50" y2="166.50" stroke="#ff0000" stroke-width="1.5"/>
<line x1="301.20" y1="156.90" x2="301.20" y2="164.90" stroke="#ff0000" stroke-width="1.5"/>
<line x1="343.20" y1="154.10" x2="343.20" y2="162.10" stroke="#ff0000" stroke-width="1.5"/>
<line x1="364.20" y1="150.50" x2="364.20" y2="156.50" stroke="#ff0000" stroke-width="1.5"/>
<line x1="374.50" y1="143.20" x2="374.50" y2="149.20" stroke="#ff0000" stroke-width="1.5"/>
<line x1="380.20" y1="129.70" x2="380.20" y2="135.70" stroke="#ff0000" stroke-width="1.5"/>
<line x1="385.40" y1="31.50" x2="385.40" y2="39.50" stroke="#ff0000" stroke-width="1.5"/>
<path d="M227.70 159.03L230.44 163.30L227.70 167.57L224.96 163.30z" fill="#ff0000"/>
<path d="M269.50 157.73L272.24 162.00L269.50 166.27L266.76 162.00z" fill="#ff0000"/>
<path d="M301.20 156.63L303.94 160.90L301.20 165.17L298.46 160.90z" fill="#ff0000"/>
<path d="M343.20 153.83L345.94 158.10L343.20 162.37L340.46 158.10z" fill="#ff0000"/>
<path d="M364.20 149.23L366.94 153.50L364.20 157.77L361.46 153.50z" fill="#ff0000"/>
<path d="M374.50 141.93L377.24 146.20L374.50 150.47L371.76 146.20z" fill="#ff0000"/>
<path d="M380.20 128.43L382.94 132.70L380.20 136.97L377.46 132.70z" fill="#ff0000"/>
<path d="M385.40 31.23L388.14 35.50L385.40 39.77L382.66 35.50z" fill="#ff0000"/>
</g>
<g clip-path="url(#c2b)">
<polyline points="227.70,197.70 269.50,193.50 301.20,203.20 343.20,201.70 364.20,206.20 374.50,215.70 380.20,221.60" fill="none" stroke="#000000" stroke-width="1.5" stroke-linejoin="round"/>
<circle cx="227.70" cy="197.70" r="4.07" fill="#000"/>
<circle cx="269.50" cy="193.50" r="4.07" fill="#000"/>
<circle cx="301.20" cy="203.20" r="4.07" fill="#000"/>
<circle cx="343.20" cy="201.70" r="4.07" fill="#000"/>
<circle cx="364.20" cy="206.20" r="4.07" fill="#000"/>
<circle cx="374.50" cy="215.70" r="4.07" fill="#000"/>
<circle cx="380.20" cy="221.60" r="4.07" fill="#000"/>
<polyline points="227.70,206.20 269.50,204.00 301.20,210.00 343.20,205.50 364.20,206.00 374.50,207.00 380.20,209.00 385.40,205.00" fill="none" stroke="#ff0000" stroke-width="1.5" stroke-linejoin="round"/>
<path d="M226.29 202.05h2.82v2.74h2.74v2.82h-2.74v2.74h-2.82v-2.74h-2.74v-2.82h2.74z" fill="#ff0000"/>
<path d="M268.09 199.85h2.82v2.74h2.74v2.82h-2.74v2.74h-2.82v-2.74h-2.74v-2.82h2.74z" fill="#ff0000"/>
<path d="M299.79 205.85h2.82v2.74h2.74v2.82h-2.74v2.74h-2.82v-2.74h-2.74v-2.82h2.74z" fill="#ff0000"/>
<path d="M341.79 201.35h2.82v2.74h2.74v2.82h-2.74v2.74h-2.82v-2.74h-2.74v-2.82h2.74z" fill="#ff0000"/>
<path d="M362.79 201.85h2.82v2.74h2.74v2.82h-2.74v2.74h-2.82v-2.74h-2.74v-2.82h2.74z" fill="#ff0000"/>
<path d="M373.09 202.85h2.82v2.74h2.74v2.82h-2.74v2.74h-2.82v-2.74h-2.74v-2.82h2.74z" fill="#ff0000"/>
<path d="M378.79 204.85h2.82v2.74h2.74v2.82h-2.74v2.74h-2.82v-2.74h-2.74v-2.82h2.74z" fill="#ff0000"/>
<path d="M383.99 200.85h2.82v2.74h2.74v2.82h-2.74v2.74h-2.82v-2.74h-2.74v-2.82h2.74z" fill="#ff0000"/>
<polyline points="227.70,202.00 269.50,201.70 301.20,208.50 343.20,207.00 364.20,207.70 374.50,207.50 380.20,208.00 385.40,198.00" fill="none" stroke="#0000ff" stroke-width="1.5" stroke-linejoin="round"/>
<rect x="224.15" y="198.45" width="7.10" height="7.10" fill="none" stroke="#0000ff" stroke-width="1.2"/>
<rect x="265.95" y="198.15" width="7.10" height="7.10" fill="none" stroke="#0000ff" stroke-width="1.2"/>
<rect x="297.65" y="204.95" width="7.10" height="7.10" fill="none" stroke="#0000ff" stroke-width="1.2"/>
<rect x="339.65" y="203.45" width="7.10" height="7.10" fill="none" stroke="#0000ff" stroke-width="1.2"/>
<rect x="360.65" y="204.15" width="7.10" height="7.10" fill="none" stroke="#0000ff" stroke-width="1.2"/>
<rect x="370.95" y="203.95" width="7.10" height="7.10" fill="none" stroke="#0000ff" stroke-width="1.2"/>
<rect x="376.65" y="204.45" width="7.10" height="7.10" fill="none" stroke="#0000ff" stroke-width="1.2"/>
<rect x="381.85" y="194.45" width="7.10" height="7.10" fill="none" stroke="#0000ff" stroke-width="1.2"/>
<polyline points="227.70,201.70 269.50,200.20 301.20,200.20 343.20,201.00 364.20,199.50 374.50,198.50 380.20,199.00 385.40,199.50" fill="none" stroke="#ff00ff" stroke-width="1.5" stroke-linejoin="round"/>
<rect x="223.55" y="197.55" width="8.30" height="8.30" fill="#ff00ff"/>
<rect x="265.35" y="196.05" width="8.30" height="8.30" fill="#ff00ff"/>
<rect x="297.05" y="196.05" width="8.30" height="8.30" fill="#ff00ff"/>
<rect x="339.05" y="196.85" width="8.30" height="8.30" fill="#ff00ff"/>
<rect x="360.05" y="195.35" width="8.30" height="8.30" fill="#ff00ff"/>
<rect x="370.35" y="194.35" width="8.30" height="8.30" fill="#ff00ff"/>
<rect x="376.05" y="194.85" width="8.30" height="8.30" fill="#ff00ff"/>
<rect x="381.25" y="195.35" width="8.30" height="8.30" fill="#ff00ff"/>
<polyline points="227.70,195.00 269.50,194.20 301.20,196.50 343.20,198.00 364.20,193.50 374.50,196.00 380.20,198.00 385.40,201.00" fill="none" stroke="#33cc33" stroke-width="1.5" stroke-linejoin="round"/>
<path d="M227.70 190.85L231.85 198.32L223.55 198.32z" fill="#33cc33"/>
<path d="M269.50 190.05L273.65 197.52L265.35 197.52z" fill="#33cc33"/>
<path d="M301.20 192.35L305.35 199.82L297.05 199.82z" fill="#33cc33"/>
<path d="M343.20 193.85L347.35 201.32L339.05 201.32z" fill="#33cc33"/>
<path d="M364.20 189.35L368.35 196.82L360.05 196.82z" fill="#33cc33"/>
<path d="M374.50 191.85L378.65 199.32L370.35 199.32z" fill="#33cc33"/>
<path d="M380.20 193.85L384.35 201.32L376.05 201.32z" fill="#33cc33"/>
<path d="M385.40 196.85L389.55 204.32L381.25 204.32z" fill="#33cc33"/>
<polyline points="227.70,188.70 269.50,189.30 301.20,193.50 343.20,187.50 364.20,188.20 374.50,189.50 380.20,196.00 385.40,215.50" fill="none" stroke="#000000" stroke-width="1.5" stroke-linejoin="round"/>
<path d="M223.55 185.38L231.85 185.38L227.70 192.85z" fill="#000"/>
<path d="M265.35 185.98L273.65 185.98L269.50 193.45z" fill="#000"/>
<path d="M297.05 190.18L305.35 190.18L301.20 197.65z" fill="#000"/>
<path d="M339.05 184.18L347.35 184.18L343.20 191.65z" fill="#000"/>
<path d="M360.05 184.88L368.35 184.88L364.20 192.35z" fill="#000"/>
<path d="M370.35 186.18L378.65 186.18L374.50 193.65z" fill="#000"/>
<path d="M376.05 192.68L384.35 192.68L380.20 200.15z" fill="#000"/>
<path d="M381.25 212.18L389.55 212.18L385.40 219.65z" fill="#000"/>
<polyline points="227.70,189.30 269.50,191.20 301.20,190.50 343.20,189.30 364.20,191.20 374.50,191.70 380.20,192.00 385.40,234.00" fill="none" stroke="#ff0000" stroke-width="1.5" stroke-linejoin="round"/>
<path d="M227.70 185.03L230.44 189.30L227.70 193.57L224.96 189.30z" fill="#ff0000"/>
<path d="M269.50 186.93L272.24 191.20L269.50 195.47L266.76 191.20z" fill="#ff0000"/>
<path d="M301.20 186.23L303.94 190.50L301.20 194.77L298.46 190.50z" fill="#ff0000"/>
<path d="M343.20 185.03L345.94 189.30L343.20 193.57L340.46 189.30z" fill="#ff0000"/>
<path d="M364.20 186.93L366.94 191.20L364.20 195.47L361.46 191.20z" fill="#ff0000"/>
<path d="M374.50 187.43L377.24 191.70L374.50 195.97L371.76 191.70z" fill="#ff0000"/>
<path d="M380.20 187.73L382.94 192.00L380.20 196.27L377.46 192.00z" fill="#ff0000"/>
<path d="M385.40 229.73L388.14 234.00L385.40 238.27L382.66 234.00z" fill="#ff0000"/>
</g>
<g clip-path="url(#c3t)">
<circle cx="585.50" cy="141.50" r="4.07" fill="#000"/>
<polyline points="427.30,164.50 466.60,162.80 516.20,158.80 545.70,152.00 555.80,146.00 566.00,130.50 578.70,71.60" fill="none" stroke="#000000" stroke-width="1.5" stroke-linejoin="round"/>
<line x1="427.30" y1="162.50" x2="427.30" y2="166.50" stroke="#000000" stroke-width="1.5"/>
<line x1="466.60" y1="160.80" x2="466.60" y2="164.80" stroke="#000000" stroke-width="1.5"/>
<line x1="516.20" y1="156.80" x2="516.20" y2="160.80" stroke="#000000" stroke-width="1.5"/>
<line x1="545.70" y1="150.00" x2="545.70" y2="154.00" stroke="#000000" stroke-width="1.5"/>
<line x1="555.80" y1="144.00" x2="555.80" y2="148.00" stroke="#000000" stroke-width="1.5"/>
<line x1="566.00" y1="128.50" x2="566.00" y2="132.50" stroke="#000000" stroke-width="1.5"/>
<line x1="578.70" y1="68.60" x2="578.70" y2="74.60" stroke="#000000" stroke-width="1.5"/>
<circle cx="427.30" cy="164.50" r="4.07" fill="#000"/>
<circle cx="466.60" cy="162.80" r="4.07" fill="#000"/>
<circle cx="516.20" cy="158.80" r="4.07" fill="#000"/>
<circle cx="545.70" cy="152.00" r="4.07" fill="#000"/>
<circle cx="555.80" cy="146.00" r="4.07" fill="#000"/>
<circle cx="566.00" cy="130.50" r="4.07" fill="#000"/>
<circle cx="578.70" cy="71.60" r="4.07" fill="#000"/>
<polyline points="427.30,163.80 466.60,161.80 516.20,157.80 545.70,150.80 555.80,142.30 566.00,124.80 574.50,55.00 578.70,29.00 585.50,139.80" fill="none" stroke="#ff0000" stroke-width="1.5" stroke-linejoin="round"/>
<path d="M425.89 159.65h2.82v2.74h2.74v2.82h-2.74v2.74h-2.82v-2.74h-2.74v-2.82h2.74z" fill="#ff0000"/>
<path d="M465.19 157.65h2.82v2.74h2.74v2.82h-2.74v2.74h-2.82v-2.74h-2.74v-2.82h2.74z" fill="#ff0000"/>
<path d="M514.79 153.65h2.82v2.74h2.74v2.82h-2.74v2.74h-2.82v-2.74h-2.74v-2.82h2.74z" fill="#ff0000"/>
<path d="M544.29 146.65h2.82v2.74h2.74v2.82h-2.74v2.74h-2.82v-2.74h-2.74v-2.82h2.74z" fill="#ff0000"/>
<path d="M554.39 138.15h2.82v2.74h2.74v2.82h-2.74v2.74h-2.82v-2.74h-2.74v-2.82h2.74z" fill="#ff0000"/>
<path d="M564.59 120.65h2.82v2.74h2.74v2.82h-2.74v2.74h-2.82v-2.74h-2.74v-2.82h2.74z" fill="#ff0000"/>
<path d="M573.09 50.85h2.82v2.74h2.74v2.82h-2.74v2.74h-2.82v-2.74h-2.74v-2.82h2.74z" fill="#ff0000"/>
<path d="M577.29 24.85h2.82v2.74h2.74v2.82h-2.74v2.74h-2.82v-2.74h-2.74v-2.82h2.74z" fill="#ff0000"/>
<path d="M584.09 135.65h2.82v2.74h2.74v2.82h-2.74v2.74h-2.82v-2.74h-2.74v-2.82h2.74z" fill="#ff0000"/>
<polyline points="427.30,163.50 466.60,161.50 516.20,157.50 545.70,150.50 555.80,142.00 566.00,124.50 574.50,55.00 578.70,33.00 585.50,139.50" fill="none" stroke="#0000ff" stroke-width="1.5" stroke-linejoin="round"/>
<rect x="423.75" y="159.95" width="7.10" height="7.10" fill="none" stroke="#0000ff" stroke-width="1.2"/>
<rect x="463.05" y="157.95" width="7.10" height="7.10" fill="none" stroke="#0000ff" stroke-width="1.2"/>
<rect x="512.65" y="153.95" width="7.10" height="7.10" fill="none" stroke="#0000ff" stroke-width="1.2"/>
<rect x="542.15" y="146.95" width="7.10" height="7.10" fill="none" stroke="#0000ff" stroke-width="1.2"/>
<rect x="552.25" y="138.45" width="7.10" height="7.10" fill="none" stroke="#0000ff" stroke-width="1.2"/>
<rect x="562.45" y="120.95" width="7.10" height="7.10" fill="none" stroke="#0000ff" stroke-width="1.2"/>
<rect x="570.95" y="51.45" width="7.10" height="7.10" fill="none" stroke="#0000ff" stroke-width="1.2"/>
<rect x="575.15" y="29.45" width="7.10" height="7.10" fill="none" stroke="#0000ff" stroke-width="1.2"/>
<rect x="581.95" y="135.95" width="7.10" height="7.10" fill="none" stroke="#0000ff" stroke-width="1.2"/>
<polyline points="427.30,162.50 466.60,160.70 516.20,156.20 545.70,148.70 555.80,139.50 566.00,120.50 574.50,49.00 578.70,33.00 585.50,139.50" fill="none" stroke="#ff00ff" stroke-width="1.5" stroke-linejoin="round"/>
<rect x="423.15" y="158.35" width="8.30" height="8.30" fill="#ff00ff"/>
<rect x="462.45" y="156.55" width="8.30" height="8.30" fill="#ff00ff"/>
<rect x="512.05" y="152.05" width="8.30" height="8.30" fill="#ff00ff"/>
<rect x="541.55" y="144.55" width="8.30" height="8.30" fill="#ff00ff"/>
<rect x="551.65" y="135.35" width="8.30" height="8.30" fill="#ff00ff"/>
<rect x="561.85" y="116.35" width="8.30" height="8.30" fill="#ff00ff"/>
<rect x="570.35" y="44.85" width="8.30" height="8.30" fill="#ff00ff"/>
<rect x="574.55" y="28.85" width="8.30" height="8.30" fill="#ff00ff"/>
<rect x="581.35" y="135.35" width="8.30" height="8.30" fill="#ff00ff"/>
<polyline points="427.30,161.50 466.60,159.30 516.20,154.50 545.70,146.00 555.80,136.20 566.00,116.50 574.50,44.00 578.70,34.00 585.50,138.00" fill="none" stroke="#33cc33" stroke-width="1.5" stroke-linejoin="round"/>
<path d="M427.30 157.35L431.45 164.82L423.15 164.82z" fill="#33cc33"/>
<path d="M466.60 155.15L470.75 162.62L462.45 162.62z" fill="#33cc33"/>
<path d="M516.20 150.35L520.35 157.82L512.05 157.82z" fill="#33cc33"/>
<path d="M545.70 141.85L549.85 149.32L541.55 149.32z" fill="#33cc33"/>
<path d="M555.80 132.05L559.95 139.52L551.65 139.52z" fill="#33cc33"/>
<path d="M566.00 112.35L570.15 119.82L561.85 119.82z" fill="#33cc33"/>
<path d="M574.50 39.85L578.65 47.32L570.35 47.32z" fill="#33cc33"/>
<path d="M578.70 29.85L582.85 37.32L574.55 37.32z" fill="#33cc33"/>
<path d="M585.50 133.85L589.65 141.32L581.35 141.32z" fill="#33cc33"/>
<polyline points="427.30,159.50 466.60,158.20 516.20,152.20 545.70,139.50 555.80,128.50 566.00,110.00 574.50,37.50 578.70,29.00 585.50,133.30" fill="none" stroke="#000000" stroke-width="1.5" stroke-linejoin="round"/>
<path d="M423.15 156.18L431.45 156.18L427.30 163.65z" fill="#000"/>
<path d="M462.45 154.88L470.75 154.88L466.60 162.35z" fill="#000"/>
<path d="M512.05 148.88L520.35 148.88L516.20 156.35z" fill="#000"/>
<path d="M541.55 136.18L549.85 136.18L545.70 143.65z" fill="#000"/>
<path d="M551.65 125.18L559.95 125.18L555.80 132.65z" fill="#000"/>
<path d="M561.85 106.68L570.15 106.68L566.00 114.15z" fill="#000"/>
<path d="M570.35 34.18L578.65 34.18L574.50 41.65z" fill="#000"/>
<path d="M574.55 25.68L582.85 25.68L578.70 33.15z" fill="#000"/>
<path d="M581.35 129.98L589.65 129.98L585.50 137.45z" fill="#000"/>
<polyline points="427.30,158.20 466.60,157.00 516.20,150.40 545.70,138.70 555.80,127.50 566.00,109.70 574.50,36.60 578.70,30.00 585.50,133.40" fill="none" stroke="#ff0000" stroke-width="1.5" stroke-linejoin="round"/>
<line x1="427.30" y1="155.20" x2="427.30" y2="161.20" stroke="#ff0000" stroke-width="1.5"/>
<line x1="466.60" y1="154.00" x2="466.60" y2="160.00" stroke="#ff0000" stroke-width="1.5"/>
<line x1="516.20" y1="147.40" x2="516.20" y2="153.40" stroke="#ff0000" stroke-width="1.5"/>
<line x1="545.70" y1="135.70" x2="545.70" y2="141.70" stroke="#ff0000" stroke-width="1.5"/>
<line x1="555.80" y1="124.50" x2="555.80" y2="130.50" stroke="#ff0000" stroke-width="1.5"/>
<line x1="566.00" y1="106.70" x2="566.00" y2="112.70" stroke="#ff0000" stroke-width="1.5"/>
<line x1="574.50" y1="32.60" x2="574.50" y2="40.60" stroke="#ff0000" stroke-width="1.5"/>
<line x1="578.70" y1="25.00" x2="578.70" y2="35.00" stroke="#ff0000" stroke-width="1.5"/>
<line x1="585.50" y1="118.40" x2="585.50" y2="148.40" stroke="#ff0000" stroke-width="1.5"/>
<path d="M427.30 153.93L430.04 158.20L427.30 162.47L424.56 158.20z" fill="#ff0000"/>
<path d="M466.60 152.73L469.34 157.00L466.60 161.27L463.86 157.00z" fill="#ff0000"/>
<path d="M516.20 146.13L518.94 150.40L516.20 154.67L513.46 150.40z" fill="#ff0000"/>
<path d="M545.70 134.43L548.44 138.70L545.70 142.97L542.96 138.70z" fill="#ff0000"/>
<path d="M555.80 123.23L558.54 127.50L555.80 131.77L553.06 127.50z" fill="#ff0000"/>
<path d="M566.00 105.43L568.74 109.70L566.00 113.97L563.26 109.70z" fill="#ff0000"/>
<path d="M574.50 32.33L577.24 36.60L574.50 40.87L571.76 36.60z" fill="#ff0000"/>
<path d="M578.70 25.73L581.44 30.00L578.70 34.27L575.96 30.00z" fill="#ff0000"/>
<path d="M585.50 129.13L588.24 133.40L585.50 137.67L582.76 133.40z" fill="#ff0000"/>
</g>
<g clip-path="url(#c3b)">
<polyline points="427.30,215.00 466.60,215.00 516.20,217.50 545.70,221.50 555.80,223.40 566.00,226.50 574.50,235.60 585.50,215.30" fill="none" stroke="#000000" stroke-width="1.5" stroke-linejoin="round"/>
<circle cx="427.30" cy="215.00" r="4.07" fill="#000"/>
<circle cx="466.60" cy="215.00" r="4.07" fill="#000"/>
<circle cx="516.20" cy="217.50" r="4.07" fill="#000"/>
<circle cx="545.70" cy="221.50" r="4.07" fill="#000"/>
<circle cx="555.80" cy="223.40" r="4.07" fill="#000"/>
<circle cx="566.00" cy="226.50" r="4.07" fill="#000"/>
<circle cx="574.50" cy="235.60" r="4.07" fill="#000"/>
<circle cx="585.50" cy="215.30" r="4.07" fill="#000"/>
<polyline points="427.30,213.00 466.60,214.50 516.20,215.40 545.70,216.50 555.80,217.50 566.00,219.50 574.50,225.40 578.70,222.00 585.50,212.00" fill="none" stroke="#ff0000" stroke-width="1.5" stroke-linejoin="round"/>
<path d="M425.89 208.85h2.82v2.74h2.74v2.82h-2.74v2.74h-2.82v-2.74h-2.74v-2.82h2.74z" fill="#ff0000"/>
<path d="M465.19 210.35h2.82v2.74h2.74v2.82h-2.74v2.74h-2.82v-2.74h-2.74v-2.82h2.74z" fill="#ff0000"/>
<path d="M514.79 211.25h2.82v2.74h2.74v2.82h-2.74v2.74h-2.82v-2.74h-2.74v-2.82h2.74z" fill="#ff0000"/>
<path d="M544.29 212.35h2.82v2.74h2.74v2.82h-2.74v2.74h-2.82v-2.74h-2.74v-2.82h2.74z" fill="#ff0000"/>
<path d="M554.39 213.35h2.82v2.74h2.74v2.82h-2.74v2.74h-2.82v-2.74h-2.74v-2.82h2.74z" fill="#ff0000"/>
<path d="M564.59 215.35h2.82v2.74h2.74v2.82h-2.74v2.74h-2.82v-2.74h-2.74v-2.82h2.74z" fill="#ff0000"/>
<path d="M573.09 221.25h2.82v2.74h2.74v2.82h-2.74v2.74h-2.82v-2.74h-2.74v-2.82h2.74z" fill="#ff0000"/>
<path d="M577.29 217.85h2.82v2.74h2.74v2.82h-2.74v2.74h-2.82v-2.74h-2.74v-2.82h2.74z" fill="#ff0000"/>
<path d="M584.09 207.85h2.82v2.74h2.74v2.82h-2.74v2.74h-2.82v-2.74h-2.74v-2.82h2.74z" fill="#ff0000"/>
<polyline points="427.30,211.20 466.60,212.80 516.20,213.40 545.70,213.80 555.80,215.00 566.00,215.80 574.50,216.50 578.70,215.00 585.50,211.00" fill="none" stroke="#0000ff" stroke-width="1.5" stroke-linejoin="round"/>
<rect x="423.75" y="207.65" width="7.10" height="7.10" fill="none" stroke="#0000ff" stroke-width="1.2"/>
<rect x="463.05" y="209.25" width="7.10" height="7.10" fill="none" stroke="#0000ff" stroke-width="1.2"/>
<rect x="512.65" y="209.85" width="7.10" height="7.10" fill="none" stroke="#0000ff" stroke-width="1.2"/>
<rect x="542.15" y="210.25" width="7.10" height="7.10" fill="none" stroke="#0000ff" stroke-width="1.2"/>
<rect x="552.25" y="211.45" width="7.10" height="7.10" fill="none" stroke="#0000ff" stroke-width="1.2"/>
<rect x="562.45" y="212.25" width="7.10" height="7.10" fill="none" stroke="#0000ff" stroke-width="1.2"/>
<rect x="570.95" y="212.95" width="7.10" height="7.10" fill="none" stroke="#0000ff" stroke-width="1.2"/>
<rect x="575.15" y="211.45" width="7.10" height="7.10" fill="none" stroke="#0000ff" stroke-width="1.2"/>
<rect x="581.95" y="207.45" width="7.10" height="7.10" fill="none" stroke="#0000ff" stroke-width="1.2"/>
<polyline points="427.30,208.50 466.60,209.70 516.20,210.40 545.70,209.30 555.80,209.30 566.00,209.30 574.50,207.50 578.70,208.00 585.50,209.30" fill="none" stroke="#ff00ff" stroke-width="1.5" stroke-linejoin="round"/>
<rect x="423.15" y="204.35" width="8.30" height="8.30" fill="#ff00ff"/>
<rect x="462.45" y="205.55" width="8.30" height="8.30" fill="#ff00ff"/>
<rect x="512.05" y="206.25" width="8.30" height="8.30" fill="#ff00ff"/>
<rect x="541.55" y="205.15" width="8.30" height="8.30" fill="#ff00ff"/>
<rect x="551.65" y="205.15" width="8.30" height="8.30" fill="#ff00ff"/>
<rect x="561.85" y="205.15" width="8.30" height="8.30" fill="#ff00ff"/>
<rect x="570.35" y="203.35" width="8.30" height="8.30" fill="#ff00ff"/>
<rect x="574.55" y="203.85" width="8.30" height="8.30" fill="#ff00ff"/>
<rect x="581.35" y="205.15" width="8.30" height="8.30" fill="#ff00ff"/>
<polyline points="427.30,205.80 466.60,205.60 516.20,205.30 545.70,204.40 555.80,204.40 566.00,204.40 574.50,207.50 578.70,205.00 585.50,206.30" fill="none" stroke="#33cc33" stroke-width="1.5" stroke-linejoin="round"/>
<path d="M427.30 201.65L431.45 209.12L423.15 209.12z" fill="#33cc33"/>
<path d="M466.60 201.45L470.75 208.92L462.45 208.92z" fill="#33cc33"/>
<path d="M516.20 201.15L520.35 208.62L512.05 208.62z" fill="#33cc33"/>
<path d="M545.70 200.25L549.85 207.72L541.55 207.72z" fill="#33cc33"/>
<path d="M555.80 200.25L559.95 207.72L551.65 207.72z" fill="#33cc33"/>
<path d="M566.00 200.25L570.15 207.72L561.85 207.72z" fill="#33cc33"/>
<path d="M574.50 203.35L578.65 210.82L570.35 210.82z" fill="#33cc33"/>
<path d="M578.70 200.85L582.85 208.32L574.55 208.32z" fill="#33cc33"/>
<path d="M585.50 202.15L589.65 209.62L581.35 209.62z" fill="#33cc33"/>
<polyline points="427.30,202.80 466.60,202.00 516.20,201.20 545.70,198.30 555.80,197.00 566.00,197.00 574.50,201.80 578.70,200.00 585.50,196.20" fill="none" stroke="#000000" stroke-width="1.5" stroke-linejoin="round"/>
<path d="M423.15 199.48L431.45 199.48L427.30 206.95z" fill="#000"/>
<path d="M462.45 198.68L470.75 198.68L466.60 206.15z" fill="#000"/>
<path d="M512.05 197.88L520.35 197.88L516.20 205.35z" fill="#000"/>
<path d="M541.55 194.98L549.85 194.98L545.70 202.45z" fill="#000"/>
<path d="M551.65 193.68L559.95 193.68L555.80 201.15z" fill="#000"/>
<path d="M561.85 193.68L570.15 193.68L566.00 201.15z" fill="#000"/>
<path d="M570.35 198.48L578.65 198.48L574.50 205.95z" fill="#000"/>
<path d="M574.55 196.68L582.85 196.68L578.70 204.15z" fill="#000"/>
<path d="M581.35 192.88L589.65 192.88L585.50 200.35z" fill="#000"/>
<polyline points="427.30,199.50 466.60,199.40 516.20,198.20 545.70,193.40 555.80,191.70 566.00,190.00 574.50,195.00 578.70,207.50 585.50,198.50" fill="none" stroke="#ff0000" stroke-width="1.5" stroke-linejoin="round"/>
<path d="M427.30 195.23L430.04 199.50L427.30 203.77L424.56 199.50z" fill="#ff0000"/>
<path d="M466.60 195.13L469.34 199.40L466.60 203.67L463.86 199.40z" fill="#ff0000"/>
<path d="M516.20 193.93L518.94 198.20L516.20 202.47L513.46 198.20z" fill="#ff0000"/>
<path d="M545.70 189.13L548.44 193.40L545.70 197.67L542.96 193.40z" fill="#ff0000"/>
<path d="M555.80 187.43L558.54 191.70L555.80 195.97L553.06 191.70z" fill="#ff0000"/>
<path d="M566.00 185.73L568.74 190.00L566.00 194.27L563.26 190.00z" fill="#ff0000"/>
<path d="M574.50 190.73L577.24 195.00L574.50 199.27L571.76 195.00z" fill="#ff0000"/>
<path d="M578.70 203.23L581.44 207.50L578.70 211.77L575.96 207.50z" fill="#ff0000"/>
<path d="M585.50 194.23L588.24 198.50L585.50 202.77L582.76 198.50z" fill="#ff0000"/>
</g>
<circle cx="37.10" cy="15.00" r="3.67" fill="#000"/>
<rect x="33.35" y="19.95" width="7.50" height="7.50" fill="#ff00ff"/>
<path d="M37.10 28.64L39.58 32.50L37.10 36.36L34.62 32.50z" fill="#ff0000"/>
<path d="M85.62 11.25h2.55v2.47h2.47v2.55h-2.47v2.47h-2.55v-2.47h-2.47v-2.55h2.47z" fill="#ff0000"/>
<path d="M86.90 19.95L90.65 26.70L83.15 26.70z" fill="#33cc33"/>
<rect x="130.75" y="11.85" width="6.30" height="6.30" fill="none" stroke="#0000ff" stroke-width="1.2"/>
<path d="M130.15 20.70L137.65 20.70L133.90 27.45z" fill="#000"/>
<g transform="translate(62.10 17.15) scale(0.96 1)"><text x="0" y="0" font-size="7" text-anchor="middle" >  µm</text><path transform="translate(-7.851 0) scale(7)" d="M0.372 -0.703L0.372 0L0.284 0L0.284 -0.492L0.110 -0.492L0.110 -0.558C0.227 -0.572 0.264 -0.593 0.292 -0.703Z" fill="#000" stroke="#000" stroke-width="0.0314"/></g>
<g transform="translate(62.10 25.85) scale(0.96 1)"><text x="0" y="0" font-size="7" text-anchor="middle" > 0 µm</text><path transform="translate(-9.798 0) scale(7)" d="M0.372 -0.703L0.372 0L0.284 0L0.284 -0.492L0.110 -0.492L0.110 -0.558C0.227 -0.572 0.264 -0.593 0.292 -0.703Z" fill="#000" stroke="#000" stroke-width="0.0314"/></g>
<g transform="translate(62.10 34.65) scale(0.96 1)"><text x="0" y="0" font-size="7" text-anchor="middle" > 00 µm</text><path transform="translate(-11.744 0) scale(7)" d="M0.372 -0.703L0.372 0L0.284 0L0.284 -0.492L0.110 -0.492L0.110 -0.558C0.227 -0.572 0.264 -0.593 0.292 -0.703Z" fill="#000" stroke="#000" stroke-width="0.0314"/></g>
<text transform="translate(110.50 17.15) scale(0.96 1)" font-size="7" text-anchor="middle" >2.5 µm</text>
<text transform="translate(110.50 25.85) scale(0.96 1)" font-size="7" text-anchor="middle" >25 µm</text>
<text transform="translate(155.80 17.15) scale(0.96 1)" font-size="7" text-anchor="middle" >5 µm</text>
<text transform="translate(155.80 25.85) scale(0.96 1)" font-size="7" text-anchor="middle" >50 µm</text>
<circle cx="235.10" cy="15.00" r="3.67" fill="#000"/>
<rect x="231.35" y="19.95" width="7.50" height="7.50" fill="#ff00ff"/>
<path d="M235.10 28.64L237.57 32.50L235.10 36.36L232.62 32.50z" fill="#ff0000"/>
<path d="M283.62 11.25h2.55v2.47h2.47v2.55h-2.47v2.47h-2.55v-2.47h-2.47v-2.55h2.47z" fill="#ff0000"/>
<path d="M284.90 19.95L288.65 26.70L281.15 26.70z" fill="#33cc33"/>
<rect x="328.75" y="11.85" width="6.30" height="6.30" fill="none" stroke="#0000ff" stroke-width="1.2"/>
<path d="M328.15 20.70L335.65 20.70L331.90 27.45z" fill="#000"/>
<g transform="translate(260.10 17.15) scale(0.96 1)"><text x="0" y="0" font-size="7" text-anchor="middle" >  µm</text><path transform="translate(-7.851 0) scale(7)" d="M0.372 -0.703L0.372 0L0.284 0L0.284 -0.492L0.110 -0.492L0.110 -0.558C0.227 -0.572 0.264 -0.593 0.292 -0.703Z" fill="#000" stroke="#000" stroke-width="0.0314"/></g>
<g transform="translate(260.10 25.85) scale(0.96 1)"><text x="0" y="0" font-size="7" text-anchor="middle" > 0 µm</text><path transform="translate(-9.798 0) scale(7)" d="M0.372 -0.703L0.372 0L0.284 0L0.284 -0.492L0.110 -0.492L0.110 -0.558C0.227 -0.572 0.264 -0.593 0.292 -0.703Z" fill="#000" stroke="#000" stroke-width="0.0314"/></g>
<g transform="translate(260.10 34.65) scale(0.96 1)"><text x="0" y="0" font-size="7" text-anchor="middle" > 00 µm</text><path transform="translate(-11.744 0) scale(7)" d="M0.372 -0.703L0.372 0L0.284 0L0.284 -0.492L0.110 -0.492L0.110 -0.558C0.227 -0.572 0.264 -0.593 0.292 -0.703Z" fill="#000" stroke="#000" stroke-width="0.0314"/></g>
<text transform="translate(308.50 17.15) scale(0.96 1)" font-size="7" text-anchor="middle" >2.5 µm</text>
<text transform="translate(308.50 25.85) scale(0.96 1)" font-size="7" text-anchor="middle" >25 µm</text>
<text transform="translate(353.80 17.15) scale(0.96 1)" font-size="7" text-anchor="middle" >5 µm</text>
<text transform="translate(353.80 25.85) scale(0.96 1)" font-size="7" text-anchor="middle" >50 µm</text>
<circle cx="433.70" cy="19.00" r="3.67" fill="#000"/>
<rect x="429.95" y="27.25" width="7.50" height="7.50" fill="#ff00ff"/>
<path d="M433.70 39.14L436.18 43.00L433.70 46.86L431.22 43.00z" fill="#ff0000"/>
<path d="M480.12 15.25h2.55v2.47h2.47v2.55h-2.47v2.47h-2.55v-2.47h-2.47v-2.55h2.47z" fill="#ff0000"/>
<path d="M481.40 27.25L485.15 34.00L477.65 34.00z" fill="#33cc33"/>
<rect x="522.35" y="15.85" width="6.30" height="6.30" fill="none" stroke="#0000ff" stroke-width="1.2"/>
<path d="M521.75 28.00L529.25 28.00L525.50 34.75z" fill="#000"/>
<g transform="translate(458.10 21.15) scale(0.96 1)"><text x="0" y="0" font-size="7" text-anchor="middle" >  µm</text><path transform="translate(-7.851 0) scale(7)" d="M0.372 -0.703L0.372 0L0.284 0L0.284 -0.492L0.110 -0.492L0.110 -0.558C0.227 -0.572 0.264 -0.593 0.292 -0.703Z" fill="#000" stroke="#000" stroke-width="0.0314"/></g>
<g transform="translate(458.10 33.15) scale(0.96 1)"><text x="0" y="0" font-size="7" text-anchor="middle" > 0 µm</text><path transform="translate(-9.798 0) scale(7)" d="M0.372 -0.703L0.372 0L0.284 0L0.284 -0.492L0.110 -0.492L0.110 -0.558C0.227 -0.572 0.264 -0.593 0.292 -0.703Z" fill="#000" stroke="#000" stroke-width="0.0314"/></g>
<g transform="translate(458.10 45.15) scale(0.96 1)"><text x="0" y="0" font-size="7" text-anchor="middle" > 00 µm</text><path transform="translate(-11.744 0) scale(7)" d="M0.372 -0.703L0.372 0L0.284 0L0.284 -0.492L0.110 -0.492L0.110 -0.558C0.227 -0.572 0.264 -0.593 0.292 -0.703Z" fill="#000" stroke="#000" stroke-width="0.0314"/></g>
<text transform="translate(503.20 21.15) scale(0.96 1)" font-size="7" text-anchor="middle" >2.5 µm</text>
<text transform="translate(503.20 33.15) scale(0.96 1)" font-size="7" text-anchor="middle" >25 µm</text>
<text transform="translate(545.70 21.15) scale(0.96 1)" font-size="7" text-anchor="middle" >5 µm</text>
<text transform="translate(545.70 33.15) scale(0.96 1)" font-size="7" text-anchor="middle" >50 µm</text>
</svg>
</body></html>
